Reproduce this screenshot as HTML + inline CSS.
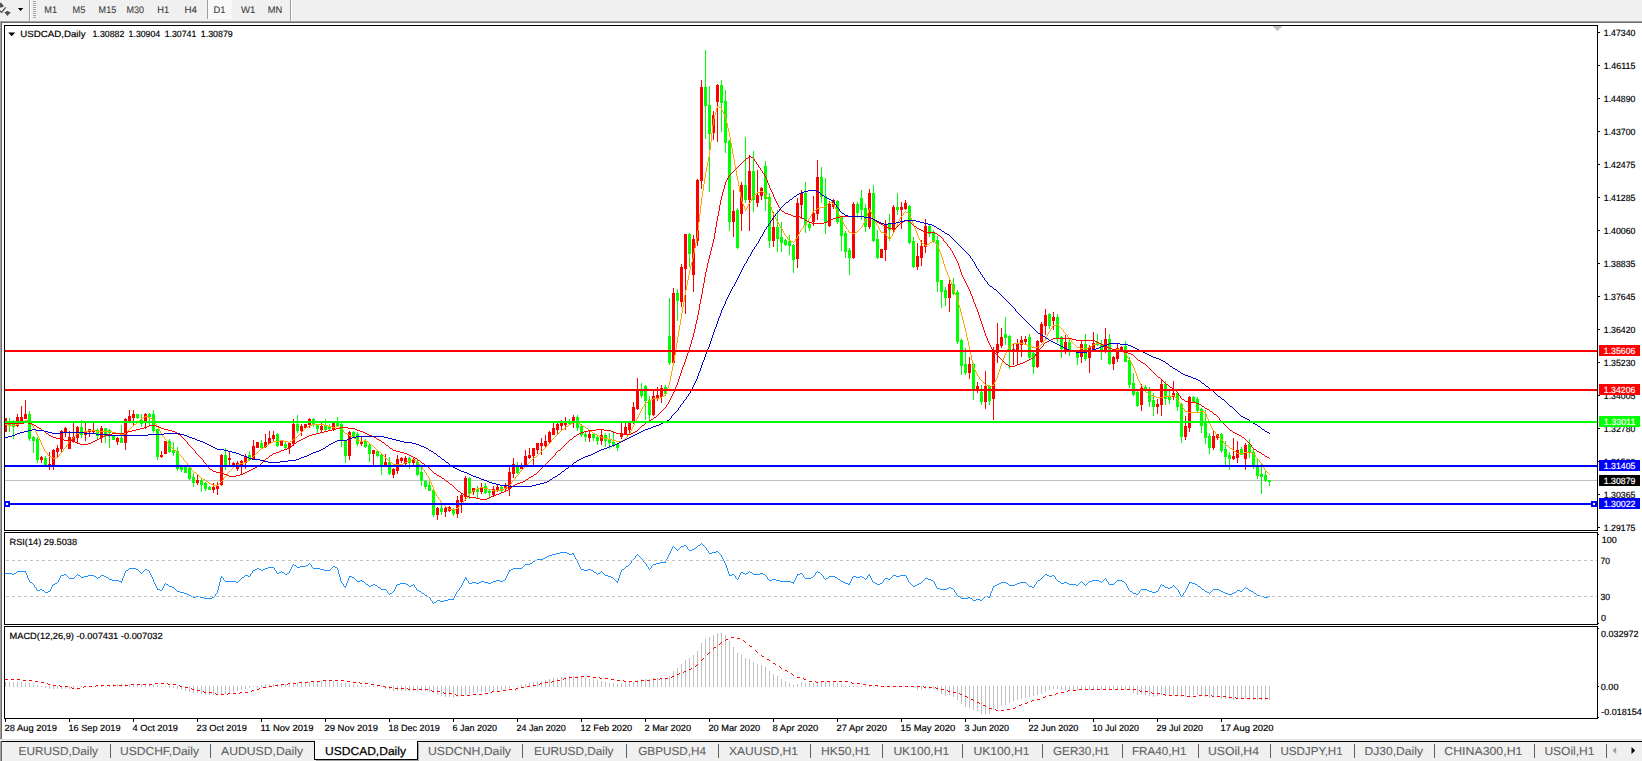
<!DOCTYPE html>
<html><head><meta charset="utf-8"><title>USDCAD,Daily</title>
<style>html,body{margin:0;padding:0;background:#fff;overflow:hidden}svg{display:block}text{font-family:"Liberation Sans",sans-serif;}</style>
</head><body>
<svg width="1642" height="761" viewBox="0 0 1642 761" shape-rendering="crispEdges" text-rendering="geometricPrecision">
<rect x="0" y="0" width="1642" height="21" fill="#f0f0f0" />
<rect x="0" y="21" width="1642" height="1" fill="#a0a0a0" />
<rect x="0" y="22" width="1642" height="1" fill="#696969" />
<rect x="0" y="22" width="1" height="719" fill="#a0a0a0" />
<rect x="1" y="23" width="1" height="718" fill="#696969" />
<rect x="29" y="0" width="1" height="21" fill="#a0a0a0" />
<rect x="30" y="0" width="1" height="21" fill="#ffffff" />
<rect x="33" y="1" width="3" height="1" fill="#a8a8a8" />
<rect x="33" y="3" width="3" height="1" fill="#a8a8a8" />
<rect x="33" y="5" width="3" height="1" fill="#a8a8a8" />
<rect x="33" y="7" width="3" height="1" fill="#a8a8a8" />
<rect x="33" y="9" width="3" height="1" fill="#a8a8a8" />
<rect x="33" y="11" width="3" height="1" fill="#a8a8a8" />
<rect x="33" y="13" width="3" height="1" fill="#a8a8a8" />
<rect x="33" y="15" width="3" height="1" fill="#a8a8a8" />
<rect x="33" y="17" width="3" height="1" fill="#a8a8a8" />
<g shape-rendering="geometricPrecision"><path d="M0 2.8 L1.2 2.8 L4 6.2 L1.5 7.6 L0 7.6 Z" fill="#505050"/><path d="M0 10.6 L1.5 12.4 L5.7 7.4" stroke="#505050" stroke-width="1.3" fill="none"/><path d="M4.2 12 L6.3 12 L6.3 11.1 L8.5 11.1 L8.5 12 L10.9 12 L7.4 15.9 Z" fill="#505050"/>
<path d="M17.9 8 L23.3 8 L20.6 11.1 Z" fill="#000"/></g>
<rect x="207" y="0" width="25" height="19" fill="#f8f8f8" />
<rect x="207" y="0" width="1" height="19" fill="#a0a0a0" />
<rect x="290" y="0" width="1" height="21" fill="#a0a0a0" />
<rect x="291" y="0" width="1" height="21" fill="#ffffff" />
<text x="44.3" y="13" font-size="9.6" fill="#3c3c3c" stroke="#3c3c3c" stroke-width="0.1" text-anchor="start" textLength="12.7" lengthAdjust="spacingAndGlyphs" >M1</text>
<text x="72.6" y="13" font-size="9.6" fill="#3c3c3c" stroke="#3c3c3c" stroke-width="0.1" text-anchor="start" textLength="12.7" lengthAdjust="spacingAndGlyphs" >M5</text>
<text x="98.6" y="13" font-size="9.6" fill="#3c3c3c" stroke="#3c3c3c" stroke-width="0.1" text-anchor="start" textLength="17.6" lengthAdjust="spacingAndGlyphs" >M15</text>
<text x="126.5" y="13" font-size="9.6" fill="#3c3c3c" stroke="#3c3c3c" stroke-width="0.1" text-anchor="start" textLength="17.5" lengthAdjust="spacingAndGlyphs" >M30</text>
<text x="157.3" y="13" font-size="9.6" fill="#3c3c3c" stroke="#3c3c3c" stroke-width="0.1" text-anchor="start" textLength="11.9" lengthAdjust="spacingAndGlyphs" >H1</text>
<text x="184.5" y="13" font-size="9.6" fill="#3c3c3c" stroke="#3c3c3c" stroke-width="0.1" text-anchor="start" textLength="12.5" lengthAdjust="spacingAndGlyphs" >H4</text>
<text x="213.6" y="13" font-size="9.6" fill="#3c3c3c" stroke="#3c3c3c" stroke-width="0.1" text-anchor="start" textLength="12.0" lengthAdjust="spacingAndGlyphs" >D1</text>
<text x="240.9" y="13" font-size="9.6" fill="#3c3c3c" stroke="#3c3c3c" stroke-width="0.1" text-anchor="start" textLength="14.4" lengthAdjust="spacingAndGlyphs" >W1</text>
<text x="267.8" y="13" font-size="9.6" fill="#3c3c3c" stroke="#3c3c3c" stroke-width="0.1" text-anchor="start" textLength="14.5" lengthAdjust="spacingAndGlyphs" >MN</text>
<rect x="4" y="25" width="1594" height="1" fill="#000" />
<rect x="4" y="530" width="1594" height="1" fill="#000" />
<rect x="4" y="25" width="1" height="506" fill="#000" />
<rect x="1597" y="25" width="1" height="506" fill="#000" />
<rect x="4" y="532" width="1594" height="1" fill="#000" />
<rect x="4" y="624" width="1594" height="1" fill="#000" />
<rect x="4" y="532" width="1" height="93" fill="#000" />
<rect x="1597" y="532" width="1" height="93" fill="#000" />
<rect x="4" y="626" width="1594" height="1" fill="#000" />
<rect x="4" y="718" width="1594" height="1" fill="#000" />
<rect x="4" y="626" width="1" height="93" fill="#000" />
<rect x="1597" y="626" width="1" height="93" fill="#000" />
<rect x="1598" y="32" width="2" height="1" fill="#000" />
<text x="1603.8" y="36" font-size="9" fill="#000" stroke="#000" stroke-width="0.18" text-anchor="start" textLength="31.6" lengthAdjust="spacingAndGlyphs" >1.47340</text>
<rect x="1598" y="65" width="2" height="1" fill="#000" />
<text x="1603.8" y="69" font-size="9" fill="#000" stroke="#000" stroke-width="0.18" text-anchor="start" textLength="31.6" lengthAdjust="spacingAndGlyphs" >1.46115</text>
<rect x="1598" y="98" width="2" height="1" fill="#000" />
<text x="1603.8" y="102" font-size="9" fill="#000" stroke="#000" stroke-width="0.18" text-anchor="start" textLength="31.6" lengthAdjust="spacingAndGlyphs" >1.44890</text>
<rect x="1598" y="131" width="2" height="1" fill="#000" />
<text x="1603.8" y="135" font-size="9" fill="#000" stroke="#000" stroke-width="0.18" text-anchor="start" textLength="31.6" lengthAdjust="spacingAndGlyphs" >1.43700</text>
<rect x="1598" y="164" width="2" height="1" fill="#000" />
<text x="1603.8" y="168" font-size="9" fill="#000" stroke="#000" stroke-width="0.18" text-anchor="start" textLength="31.6" lengthAdjust="spacingAndGlyphs" >1.42475</text>
<rect x="1598" y="197" width="2" height="1" fill="#000" />
<text x="1603.8" y="201" font-size="9" fill="#000" stroke="#000" stroke-width="0.18" text-anchor="start" textLength="31.6" lengthAdjust="spacingAndGlyphs" >1.41285</text>
<rect x="1598" y="230" width="2" height="1" fill="#000" />
<text x="1603.8" y="234" font-size="9" fill="#000" stroke="#000" stroke-width="0.18" text-anchor="start" textLength="31.6" lengthAdjust="spacingAndGlyphs" >1.40060</text>
<rect x="1598" y="263" width="2" height="1" fill="#000" />
<text x="1603.8" y="267" font-size="9" fill="#000" stroke="#000" stroke-width="0.18" text-anchor="start" textLength="31.6" lengthAdjust="spacingAndGlyphs" >1.38835</text>
<rect x="1598" y="296" width="2" height="1" fill="#000" />
<text x="1603.8" y="300" font-size="9" fill="#000" stroke="#000" stroke-width="0.18" text-anchor="start" textLength="31.6" lengthAdjust="spacingAndGlyphs" >1.37645</text>
<rect x="1598" y="329" width="2" height="1" fill="#000" />
<text x="1603.8" y="333" font-size="9" fill="#000" stroke="#000" stroke-width="0.18" text-anchor="start" textLength="31.6" lengthAdjust="spacingAndGlyphs" >1.36420</text>
<rect x="1598" y="362" width="2" height="1" fill="#000" />
<text x="1603.8" y="366" font-size="9" fill="#000" stroke="#000" stroke-width="0.18" text-anchor="start" textLength="31.6" lengthAdjust="spacingAndGlyphs" >1.35230</text>
<rect x="1598" y="395" width="2" height="1" fill="#000" />
<text x="1603.8" y="399" font-size="9" fill="#000" stroke="#000" stroke-width="0.18" text-anchor="start" textLength="31.6" lengthAdjust="spacingAndGlyphs" >1.34005</text>
<rect x="1598" y="428" width="2" height="1" fill="#000" />
<text x="1603.8" y="432" font-size="9" fill="#000" stroke="#000" stroke-width="0.18" text-anchor="start" textLength="31.6" lengthAdjust="spacingAndGlyphs" >1.32780</text>
<rect x="1598" y="461" width="2" height="1" fill="#000" />
<text x="1603.8" y="465" font-size="9" fill="#000" stroke="#000" stroke-width="0.18" text-anchor="start" textLength="31.6" lengthAdjust="spacingAndGlyphs" >1.31590</text>
<rect x="1598" y="494" width="2" height="1" fill="#000" />
<text x="1603.8" y="498" font-size="9" fill="#000" stroke="#000" stroke-width="0.18" text-anchor="start" textLength="31.6" lengthAdjust="spacingAndGlyphs" >1.30365</text>
<rect x="1598" y="527" width="2" height="1" fill="#000" />
<text x="1603.8" y="531" font-size="9" fill="#000" stroke="#000" stroke-width="0.18" text-anchor="start" textLength="31.6" lengthAdjust="spacingAndGlyphs" >1.29175</text>
<rect x="1598" y="534" width="1" height="1" fill="#000" />
<rect x="1598" y="623" width="1" height="1" fill="#000" />
<rect x="1598" y="628" width="1" height="1" fill="#000" />
<rect x="1598" y="717" width="1" height="1" fill="#000" />
<text x="1601.7" y="543" font-size="9" fill="#000" stroke="#000" stroke-width="0.18" text-anchor="start" textLength="15" lengthAdjust="spacingAndGlyphs" >100</text>
<text x="1600.5" y="564" font-size="9" fill="#000" stroke="#000" stroke-width="0.18" text-anchor="start" textLength="9.6" lengthAdjust="spacingAndGlyphs" >70</text>
<text x="1600.5" y="600" font-size="9" fill="#000" stroke="#000" stroke-width="0.18" text-anchor="start" textLength="9.6" lengthAdjust="spacingAndGlyphs" >30</text>
<text x="1601" y="621" font-size="9" fill="#000" stroke="#000" stroke-width="0.18" text-anchor="start" textLength="5" lengthAdjust="spacingAndGlyphs" >0</text>
<text x="1601" y="637" font-size="9" fill="#000" stroke="#000" stroke-width="0.18" text-anchor="start" textLength="37.5" lengthAdjust="spacingAndGlyphs" >0.032972</text>
<text x="1600.8" y="690" font-size="9" fill="#000" stroke="#000" stroke-width="0.18" text-anchor="start" textLength="17.7" lengthAdjust="spacingAndGlyphs" >0.00</text>
<text x="1601.2" y="715" font-size="9" fill="#000" stroke="#000" stroke-width="0.18" text-anchor="start" textLength="40.6" lengthAdjust="spacingAndGlyphs" >-0.018154</text>
<rect x="1598" y="686" width="1" height="1" fill="#000" />
<rect x="5" y="719" width="1" height="3" fill="#000" />
<text x="4.5" y="731" font-size="9" fill="#000" stroke="#000" stroke-width="0.18" text-anchor="start" textLength="52.5" lengthAdjust="spacingAndGlyphs" >28 Aug 2019</text>
<rect x="69" y="719" width="1" height="3" fill="#000" />
<text x="68.5" y="731" font-size="9" fill="#000" stroke="#000" stroke-width="0.18" text-anchor="start" textLength="52" lengthAdjust="spacingAndGlyphs" >16 Sep 2019</text>
<rect x="133" y="719" width="1" height="3" fill="#000" />
<text x="132.5" y="731" font-size="9" fill="#000" stroke="#000" stroke-width="0.18" text-anchor="start" textLength="45.5" lengthAdjust="spacingAndGlyphs" >4 Oct 2019</text>
<rect x="197" y="719" width="1" height="3" fill="#000" />
<text x="196.5" y="731" font-size="9" fill="#000" stroke="#000" stroke-width="0.18" text-anchor="start" textLength="50.4" lengthAdjust="spacingAndGlyphs" >23 Oct 2019</text>
<rect x="261" y="719" width="1" height="3" fill="#000" />
<text x="260.5" y="731" font-size="9" fill="#000" stroke="#000" stroke-width="0.18" text-anchor="start" textLength="53" lengthAdjust="spacingAndGlyphs" >11 Nov 2019</text>
<rect x="325" y="719" width="1" height="3" fill="#000" />
<text x="324.5" y="731" font-size="9" fill="#000" stroke="#000" stroke-width="0.18" text-anchor="start" textLength="53.5" lengthAdjust="spacingAndGlyphs" >29 Nov 2019</text>
<rect x="389" y="719" width="1" height="3" fill="#000" />
<text x="388.5" y="731" font-size="9" fill="#000" stroke="#000" stroke-width="0.18" text-anchor="start" textLength="51.2" lengthAdjust="spacingAndGlyphs" >18 Dec 2019</text>
<rect x="453" y="719" width="1" height="3" fill="#000" />
<text x="452.5" y="731" font-size="9" fill="#000" stroke="#000" stroke-width="0.18" text-anchor="start" textLength="44.5" lengthAdjust="spacingAndGlyphs" >6 Jan 2020</text>
<rect x="517" y="719" width="1" height="3" fill="#000" />
<text x="516.5" y="731" font-size="9" fill="#000" stroke="#000" stroke-width="0.18" text-anchor="start" textLength="49.1" lengthAdjust="spacingAndGlyphs" >24 Jan 2020</text>
<rect x="581" y="719" width="1" height="3" fill="#000" />
<text x="580.5" y="731" font-size="9" fill="#000" stroke="#000" stroke-width="0.18" text-anchor="start" textLength="51.7" lengthAdjust="spacingAndGlyphs" >12 Feb 2020</text>
<rect x="645" y="719" width="1" height="3" fill="#000" />
<text x="644.5" y="731" font-size="9" fill="#000" stroke="#000" stroke-width="0.18" text-anchor="start" textLength="46.5" lengthAdjust="spacingAndGlyphs" >2 Mar 2020</text>
<rect x="709" y="719" width="1" height="3" fill="#000" />
<text x="708.5" y="731" font-size="9" fill="#000" stroke="#000" stroke-width="0.18" text-anchor="start" textLength="51.7" lengthAdjust="spacingAndGlyphs" >20 Mar 2020</text>
<rect x="773" y="719" width="1" height="3" fill="#000" />
<text x="772.5" y="731" font-size="9" fill="#000" stroke="#000" stroke-width="0.18" text-anchor="start" textLength="45.8" lengthAdjust="spacingAndGlyphs" >8 Apr 2020</text>
<rect x="837" y="719" width="1" height="3" fill="#000" />
<text x="836.5" y="731" font-size="9" fill="#000" stroke="#000" stroke-width="0.18" text-anchor="start" textLength="50.4" lengthAdjust="spacingAndGlyphs" >27 Apr 2020</text>
<rect x="901" y="719" width="1" height="3" fill="#000" />
<text x="900.5" y="731" font-size="9" fill="#000" stroke="#000" stroke-width="0.18" text-anchor="start" textLength="54.7" lengthAdjust="spacingAndGlyphs" >15 May 2020</text>
<rect x="965" y="719" width="1" height="3" fill="#000" />
<text x="964.5" y="731" font-size="9" fill="#000" stroke="#000" stroke-width="0.18" text-anchor="start" textLength="44.5" lengthAdjust="spacingAndGlyphs" >3 Jun 2020</text>
<rect x="1029" y="719" width="1" height="3" fill="#000" />
<text x="1028.5" y="731" font-size="9" fill="#000" stroke="#000" stroke-width="0.18" text-anchor="start" textLength="49.9" lengthAdjust="spacingAndGlyphs" >22 Jun 2020</text>
<rect x="1093" y="719" width="1" height="3" fill="#000" />
<text x="1092.5" y="731" font-size="9" fill="#000" stroke="#000" stroke-width="0.18" text-anchor="start" textLength="46.5" lengthAdjust="spacingAndGlyphs" >10 Jul 2020</text>
<rect x="1157" y="719" width="1" height="3" fill="#000" />
<text x="1156.5" y="731" font-size="9" fill="#000" stroke="#000" stroke-width="0.18" text-anchor="start" textLength="46.5" lengthAdjust="spacingAndGlyphs" >29 Jul 2020</text>
<rect x="1221" y="719" width="1" height="3" fill="#000" />
<text x="1220.5" y="731" font-size="9" fill="#000" stroke="#000" stroke-width="0.18" text-anchor="start" textLength="53" lengthAdjust="spacingAndGlyphs" >17 Aug 2020</text>
<rect x="5" y="480" width="1592" height="1" fill="#c0c0c0" />
<path d="M9 418h1v14h-1zM8 424h3v1h-3zM13 420h1v19h-1zM12 421h3v6h-3zM29 411h1v30h-1zM28 414h3v25h-3zM33 436h1v17h-1zM32 437h3v4h-3zM37 437h1v26h-1zM36 439h3v21h-3zM45 456h1v10h-1zM44 458h3v8h-3zM81 420h1v18h-1zM80 427h3v8h-3zM97 428h1v12h-1zM96 430h3v6h-3zM105 428h1v15h-1zM104 428h3v8h-3zM109 429h1v19h-1zM108 430h3v3h-3zM113 435h1v5h-1zM112 436h3v4h-3zM121 425h1v18h-1zM120 438h3v5h-3zM137 414h1v5h-1zM136 414h3v4h-3zM141 414h1v13h-1zM140 420h3v4h-3zM149 413h1v13h-1zM148 414h3v3h-3zM153 410h1v23h-1zM152 414h3v17h-3zM157 429h1v31h-1zM156 429h3v28h-3zM169 439h1v14h-1zM168 441h3v11h-3zM173 442h1v14h-1zM172 450h3v3h-3zM177 447h1v24h-1zM176 451h3v18h-3zM181 466h1v6h-1zM180 467h3v3h-3zM185 467h1v6h-1zM184 467h3v6h-3zM189 467h1v13h-1zM188 468h3v11h-3zM193 473h1v14h-1zM192 477h3v6h-3zM201 478h1v14h-1zM200 480h3v5h-3zM205 482h1v9h-1zM204 483h3v6h-3zM209 486h1v4h-1zM208 487h3v3h-3zM225 448h1v22h-1zM224 455h3v11h-3zM249 451h1v10h-1zM248 455h3v5h-3zM261 440h1v8h-1zM260 443h3v5h-3zM277 433h1v14h-1zM276 434h3v12h-3zM285 441h1v8h-1zM284 444h3v4h-3zM297 415h1v18h-1zM296 424h3v7h-3zM313 418h1v9h-1zM312 419h3v6h-3zM317 424h1v10h-1zM316 425h3v4h-3zM325 419h1v12h-1zM324 425h3v5h-3zM329 424h1v6h-1zM328 426h3v3h-3zM337 417h1v10h-1zM336 423h3v3h-3zM341 423h1v24h-1zM340 424h3v17h-3zM345 440h1v23h-1zM344 441h3v15h-3zM353 431h1v6h-1zM352 432h3v5h-3zM357 432h1v14h-1zM356 434h3v10h-3zM365 439h1v9h-1zM364 441h3v6h-3zM369 444h1v18h-1zM368 445h3v9h-3zM377 450h1v7h-1zM376 451h3v5h-3zM381 454h1v21h-1zM380 455h3v10h-3zM389 457h1v18h-1zM388 462h3v12h-3zM409 457h1v12h-1zM408 458h3v5h-3zM417 459h1v17h-1zM416 462h3v13h-3zM421 467h1v19h-1zM420 472h3v9h-3zM425 480h1v9h-1zM424 481h3v6h-3zM429 481h1v10h-1zM428 485h3v6h-3zM433 489h1v28h-1zM432 490h3v25h-3zM441 502h1v13h-1zM440 508h3v4h-3zM453 508h1v8h-1zM452 510h3v4h-3zM469 477h1v22h-1zM468 478h3v16h-3zM477 486h1v12h-1zM476 489h3v3h-3zM485 483h1v11h-1zM484 486h3v7h-3zM489 490h1v9h-1zM488 491h3v2h-3zM501 485h1v7h-1zM500 487h3v4h-3zM517 462h1v12h-1zM516 466h3v7h-3zM569 419h1v6h-1zM568 421h3v3h-3zM577 415h1v16h-1zM576 417h3v11h-3zM581 424h1v13h-1zM580 426h3v9h-3zM585 432h1v10h-1zM584 434h3v3h-3zM593 433h1v8h-1zM592 434h3v4h-3zM597 436h1v9h-1zM596 437h3v4h-3zM605 433h1v14h-1zM604 435h3v6h-3zM609 433h1v16h-1zM608 439h3v4h-3zM613 431h1v16h-1zM612 442h3v3h-3zM617 443h1v8h-1zM616 444h3v4h-3zM641 383h1v15h-1zM640 390h3v6h-3zM645 385h1v35h-1zM644 386h3v15h-3zM649 396h1v24h-1zM648 400h3v15h-3zM665 385h1v11h-1zM664 387h3v7h-3zM669 298h1v67h-1zM668 336h3v27h-3zM677 289h1v32h-1zM676 293h3v8h-3zM689 233h1v34h-1zM688 234h3v20h-3zM705 50h1v89h-1zM704 87h3v19h-3zM709 86h1v106h-1zM708 105h3v29h-3zM721 80h1v52h-1zM720 85h3v18h-3zM725 90h1v63h-1zM724 101h3v42h-3zM729 140h1v91h-1zM728 141h3v81h-3zM737 208h1v41h-1zM736 210h3v38h-3zM745 137h1v66h-1zM744 185h3v15h-3zM753 151h1v61h-1zM752 171h3v29h-3zM765 161h1v50h-1zM764 166h3v33h-3zM769 193h1v55h-1zM768 197h3v44h-3zM777 210h1v42h-1zM776 227h3v12h-3zM781 222h1v30h-1zM780 237h3v6h-3zM785 239h1v7h-1zM784 240h3v5h-3zM789 235h1v20h-1zM788 241h3v5h-3zM793 244h1v29h-1zM792 245h3v15h-3zM805 182h1v51h-1zM804 193h3v32h-3zM809 223h1v8h-1zM808 224h3v4h-3zM821 167h1v36h-1zM820 177h3v20h-3zM825 178h1v56h-1zM824 196h3v27h-3zM837 200h1v24h-1zM836 201h3v21h-3zM841 216h1v35h-1zM840 217h3v19h-3zM845 231h1v27h-1zM844 233h3v19h-3zM849 248h1v27h-1zM848 250h3v8h-3zM857 202h1v16h-1zM856 204h3v9h-3zM861 190h1v30h-1zM860 198h3v12h-3zM865 204h1v28h-1zM864 208h3v19h-3zM873 185h1v57h-1zM872 193h3v48h-3zM877 230h1v29h-1zM876 239h3v19h-3zM889 214h1v27h-1zM888 224h3v6h-3zM897 193h1v22h-1zM896 207h3v3h-3zM909 205h1v39h-1zM908 206h3v37h-3zM913 237h1v31h-1zM912 241h3v26h-3zM929 224h1v13h-1zM928 226h3v8h-3zM933 230h1v13h-1zM932 233h3v8h-3zM937 236h1v56h-1zM936 240h3v42h-3zM941 280h1v28h-1zM940 280h3v12h-3zM945 287h1v19h-1zM944 290h3v8h-3zM953 278h1v17h-1zM952 284h3v10h-3zM957 290h1v54h-1zM956 292h3v50h-3zM961 339h1v36h-1zM960 340h3v26h-3zM965 348h1v27h-1zM964 364h3v9h-3zM973 363h1v37h-1zM972 364h3v26h-3zM981 385h1v20h-1zM980 392h3v10h-3zM989 385h1v20h-1zM988 386h3v15h-3zM1005 317h1v28h-1zM1004 334h3v4h-3zM1009 335h1v34h-1zM1008 336h3v14h-3zM1029 334h1v25h-1zM1028 337h3v21h-3zM1033 352h1v22h-1zM1032 353h3v14h-3zM1049 313h1v16h-1zM1048 314h3v12h-3zM1057 314h1v29h-1zM1056 317h3v22h-3zM1061 336h1v22h-1zM1060 337h3v12h-3zM1069 338h1v18h-1zM1068 342h3v10h-3zM1073 350h1v2h-1zM1072 350h3v2h-3zM1077 353h1v12h-1zM1076 353h3v5h-3zM1085 334h1v27h-1zM1084 344h3v15h-3zM1097 334h1v12h-1zM1096 342h3v3h-3zM1101 340h1v20h-1zM1100 345h3v6h-3zM1109 334h1v31h-1zM1108 339h3v25h-3zM1125 341h1v21h-1zM1124 346h3v16h-3zM1129 357h1v31h-1zM1128 360h3v25h-3zM1133 373h1v23h-1zM1132 383h3v12h-3zM1137 389h1v18h-1zM1136 392h3v14h-3zM1145 385h1v7h-1zM1144 387h3v3h-3zM1149 387h1v20h-1zM1148 391h3v11h-3zM1153 393h1v23h-1zM1152 400h3v7h-3zM1165 381h1v24h-1zM1164 384h3v15h-3zM1169 391h1v13h-1zM1168 397h3v3h-3zM1177 392h1v19h-1zM1176 393h3v14h-3zM1181 403h1v40h-1zM1180 404h3v33h-3zM1193 396h1v7h-1zM1192 397h3v5h-3zM1197 397h1v16h-1zM1196 399h3v12h-3zM1201 408h1v25h-1zM1200 409h3v17h-3zM1205 410h1v34h-1zM1204 421h3v17h-3zM1209 433h1v21h-1zM1208 436h3v12h-3zM1221 433h1v20h-1zM1220 434h3v17h-3zM1225 441h1v24h-1zM1224 449h3v8h-3zM1229 452h1v18h-1zM1228 455h3v4h-3zM1241 447h1v8h-1zM1240 449h3v6h-3zM1249 439h1v19h-1zM1248 444h3v8h-3zM1253 448h1v21h-1zM1252 452h3v14h-3zM1257 459h1v20h-1zM1256 467h3v9h-3zM1261 464h1v30h-1zM1260 474h3v3h-3zM1265 470h1v12h-1zM1264 475h3v6h-3zM1269 480h1v6h-1zM1268 480h3v2h-3z" fill="#00ff00"/>
<path d="M5 418h1v14h-1zM5 418h2v14h-2zM17 414h1v13h-1zM16 417h3v9h-3zM21 406h1v15h-1zM20 417h3v4h-3zM25 400h1v19h-1zM24 414h3v5h-3zM41 456h1v7h-1zM40 457h3v3h-3zM49 452h1v18h-1zM48 464h3v2h-3zM53 449h1v21h-1zM52 450h3v16h-3zM57 445h1v12h-1zM56 448h3v4h-3zM61 430h1v22h-1zM60 431h3v18h-3zM65 427h1v10h-1zM64 428h3v5h-3zM69 431h1v18h-1zM68 437h3v12h-3zM73 423h1v20h-1zM72 437h3v4h-3zM77 426h1v17h-1zM76 427h3v11h-3zM85 423h1v18h-1zM84 431h3v4h-3zM89 429h1v8h-1zM88 429h3v3h-3zM93 423h1v10h-1zM92 430h3v2h-3zM101 426h1v17h-1zM100 428h3v10h-3zM117 437h1v8h-1zM116 438h3v4h-3zM125 418h1v32h-1zM124 419h3v24h-3zM129 410h1v12h-1zM128 416h3v5h-3zM133 410h1v15h-1zM132 414h3v4h-3zM145 413h1v16h-1zM144 414h3v8h-3zM161 451h1v7h-1zM160 455h3v2h-3zM165 441h1v13h-1zM164 441h3v13h-3zM197 475h1v10h-1zM196 480h3v3h-3zM213 483h1v10h-1zM212 487h3v3h-3zM217 482h1v13h-1zM216 486h3v3h-3zM221 454h1v32h-1zM220 455h3v30h-3zM229 451h1v16h-1zM228 458h3v2h-3zM233 462h1v5h-1zM232 463h3v3h-3zM237 461h1v10h-1zM236 463h3v6h-3zM241 460h1v15h-1zM240 461h3v4h-3zM245 454h1v15h-1zM244 457h3v6h-3zM253 440h1v20h-1zM252 446h3v13h-3zM257 442h1v6h-1zM256 442h3v6h-3zM265 434h1v14h-1zM264 442h3v5h-3zM269 431h1v13h-1zM268 438h3v6h-3zM273 431h1v10h-1zM272 435h3v4h-3zM281 441h1v5h-1zM280 441h3v5h-3zM289 442h1v12h-1zM288 443h3v5h-3zM293 419h1v27h-1zM292 424h3v20h-3zM301 424h1v12h-1zM300 426h3v5h-3zM305 424h1v4h-1zM304 424h3v4h-3zM309 418h1v10h-1zM308 419h3v6h-3zM321 423h1v9h-1zM320 426h3v4h-3zM333 423h1v8h-1zM332 423h3v7h-3zM349 431h1v29h-1zM348 432h3v24h-3zM361 437h1v9h-1zM360 441h3v3h-3zM373 450h1v15h-1zM372 450h3v4h-3zM385 454h1v12h-1zM384 462h3v3h-3zM393 468h1v10h-1zM392 469h3v6h-3zM397 455h1v19h-1zM396 459h3v12h-3zM401 457h1v6h-1zM400 458h3v3h-3zM405 456h1v9h-1zM404 458h3v6h-3zM413 458h1v7h-1zM412 459h3v4h-3zM437 507h1v13h-1zM436 508h3v7h-3zM445 506h1v11h-1zM444 508h3v4h-3zM449 506h1v6h-1zM448 507h3v4h-3zM457 496h1v22h-1zM456 500h3v14h-3zM461 493h1v20h-1zM460 495h3v7h-3zM465 476h1v25h-1zM464 478h3v19h-3zM473 488h1v7h-1zM472 488h3v4h-3zM481 483h1v11h-1zM480 487h3v5h-3zM493 486h1v11h-1zM492 489h3v6h-3zM497 485h1v7h-1zM496 487h3v3h-3zM505 483h1v8h-1zM504 486h3v3h-3zM509 467h1v29h-1zM508 472h3v17h-3zM513 458h1v20h-1zM512 464h3v10h-3zM521 463h1v6h-1zM520 466h3v3h-3zM525 450h1v17h-1zM524 456h3v10h-3zM529 448h1v11h-1zM528 455h3v3h-3zM533 448h1v17h-1zM532 448h3v8h-3zM537 443h1v11h-1zM536 443h3v7h-3zM541 438h1v17h-1zM540 443h3v3h-3zM545 435h1v12h-1zM544 441h3v5h-3zM549 431h1v12h-1zM548 432h3v10h-3zM553 423h1v12h-1zM552 428h3v7h-3zM557 423h1v12h-1zM556 424h3v6h-3zM561 420h1v11h-1zM560 423h3v3h-3zM565 417h1v13h-1zM564 421h3v4h-3zM573 415h1v13h-1zM572 417h3v5h-3zM589 430h1v12h-1zM588 434h3v4h-3zM601 429h1v16h-1zM600 435h3v6h-3zM621 423h1v16h-1zM620 433h3v4h-3zM625 423h1v12h-1zM624 427h3v7h-3zM629 421h1v13h-1zM628 423h3v7h-3zM633 402h1v22h-1zM632 407h3v15h-3zM637 378h1v32h-1zM636 389h3v20h-3zM653 391h1v25h-1zM652 396h3v19h-3zM657 387h1v14h-1zM656 395h3v3h-3zM661 385h1v18h-1zM660 388h3v9h-3zM673 288h1v75h-1zM672 293h3v70h-3zM681 264h1v43h-1zM680 267h3v35h-3zM685 234h1v80h-1zM684 234h3v35h-3zM693 235h1v57h-1zM692 239h3v36h-3zM697 179h1v67h-1zM696 180h3v61h-3zM701 80h1v109h-1zM700 87h3v94h-3zM713 111h1v29h-1zM712 115h3v18h-3zM717 84h1v58h-1zM716 85h3v17h-3zM733 190h1v47h-1zM732 211h3v11h-3zM741 182h1v49h-1zM740 185h3v29h-3zM749 155h1v76h-1zM748 171h3v29h-3zM757 170h1v37h-1zM756 195h3v8h-3zM761 187h1v13h-1zM760 188h3v8h-3zM773 212h1v35h-1zM772 227h3v14h-3zM797 198h1v70h-1zM796 203h3v56h-3zM801 190h1v29h-1zM800 193h3v12h-3zM813 196h1v30h-1zM812 213h3v9h-3zM817 160h1v60h-1zM816 177h3v37h-3zM829 201h1v26h-1zM828 204h3v22h-3zM833 199h1v10h-1zM832 200h3v7h-3zM853 202h1v57h-1zM852 204h3v54h-3zM869 189h1v40h-1zM868 193h3v34h-3zM881 249h1v9h-1zM880 249h3v9h-3zM885 220h1v41h-1zM884 225h3v25h-3zM893 205h1v27h-1zM892 207h3v23h-3zM901 202h1v27h-1zM900 207h3v3h-3zM905 200h1v10h-1zM904 203h3v6h-3zM917 243h1v27h-1zM916 256h3v11h-3zM921 240h1v26h-1zM920 246h3v12h-3zM925 219h1v34h-1zM924 226h3v21h-3zM949 280h1v32h-1zM948 284h3v14h-3zM969 357h1v22h-1zM968 364h3v9h-3zM977 382h1v11h-1zM976 386h3v5h-3zM985 371h1v38h-1zM984 386h3v16h-3zM993 347h1v73h-1zM992 351h3v48h-3zM997 323h1v40h-1zM996 344h3v9h-3zM1001 328h1v20h-1zM1000 337h3v9h-3zM1013 344h1v21h-1zM1012 349h3v3h-3zM1017 339h1v25h-1zM1016 344h3v8h-3zM1021 336h1v21h-1zM1020 340h3v5h-3zM1025 336h1v9h-1zM1024 339h3v3h-3zM1037 340h1v28h-1zM1036 341h3v26h-3zM1041 322h1v21h-1zM1040 324h3v18h-3zM1045 309h1v26h-1zM1044 315h3v11h-3zM1053 312h1v18h-1zM1052 317h3v4h-3zM1065 335h1v19h-1zM1064 342h3v10h-3zM1081 340h1v23h-1zM1080 344h3v13h-3zM1089 345h1v28h-1zM1088 347h3v11h-3zM1093 332h1v19h-1zM1092 343h3v6h-3zM1105 328h1v25h-1zM1104 339h3v13h-3zM1113 356h1v14h-1zM1112 357h3v7h-3zM1117 344h1v18h-1zM1116 348h3v11h-3zM1121 346h1v5h-1zM1120 347h3v3h-3zM1141 384h1v27h-1zM1140 388h3v17h-3zM1157 399h1v15h-1zM1156 404h3v3h-3zM1161 379h1v37h-1zM1160 384h3v21h-3zM1173 381h1v19h-1zM1172 393h3v4h-3zM1185 416h1v24h-1zM1184 426h3v11h-3zM1189 396h1v36h-1zM1188 397h3v31h-3zM1213 431h1v19h-1zM1212 436h3v12h-3zM1217 434h1v6h-1zM1216 434h3v4h-3zM1233 438h1v22h-1zM1232 456h3v3h-3zM1237 441h1v22h-1zM1236 450h3v8h-3zM1245 443h1v27h-1zM1244 445h3v14h-3z" fill="#ff0000"/>
<path d="M717 106h2v1h-2zM717 107h1v1h-1zM719 107h2v1h-2zM716 108h1v1h-1zM721 108h1v1h-1zM716 109h1v1h-1zM721 109h1v1h-1zM716 110h1v1h-1zM722 110h1v1h-1zM716 111h1v1h-1zM722 111h1v1h-1zM715 112h1v1h-1zM723 112h1v1h-1zM715 113h1v1h-1zM723 113h1v1h-1zM715 114h1v1h-1zM724 114h1v1h-1zM714 115h1v1h-1zM724 115h1v1h-1zM714 116h1v1h-1zM725 116h1v1h-1zM714 117h1v1h-1zM725 117h1v1h-1zM714 118h1v1h-1zM725 118h1v1h-1zM713 119h1v1h-1zM726 119h1v1h-1zM713 120h1v1h-1zM726 120h1v1h-1zM713 121h1v1h-1zM726 121h1v1h-1zM713 122h1v1h-1zM726 122h1v1h-1zM713 123h1v1h-1zM727 123h1v1h-1zM713 124h1v1h-1zM727 124h1v1h-1zM712 125h1v1h-1zM727 125h1v1h-1zM712 126h1v1h-1zM727 126h1v1h-1zM712 127h1v1h-1zM727 127h1v1h-1zM712 128h1v1h-1zM728 128h1v1h-1zM712 129h1v1h-1zM728 129h1v1h-1zM712 130h1v1h-1zM728 130h1v1h-1zM712 131h1v1h-1zM728 131h1v1h-1zM712 132h1v1h-1zM729 132h1v1h-1zM711 133h1v1h-1zM729 133h1v1h-1zM711 134h1v1h-1zM729 134h1v1h-1zM711 135h1v1h-1zM729 135h1v1h-1zM711 136h1v1h-1zM729 136h1v1h-1zM711 137h1v1h-1zM730 137h1v1h-1zM711 138h1v1h-1zM730 138h1v1h-1zM711 139h1v1h-1zM730 139h1v1h-1zM711 140h1v1h-1zM730 140h1v1h-1zM711 141h1v1h-1zM730 141h1v1h-1zM710 142h1v1h-1zM730 142h1v1h-1zM710 143h1v1h-1zM731 143h1v1h-1zM710 144h1v1h-1zM731 144h1v1h-1zM710 145h1v1h-1zM731 145h1v1h-1zM710 146h1v1h-1zM731 146h1v1h-1zM710 147h1v1h-1zM731 147h1v1h-1zM710 148h1v1h-1zM732 148h1v1h-1zM710 149h1v1h-1zM732 149h1v1h-1zM709 150h1v1h-1zM732 150h1v1h-1zM709 151h1v1h-1zM732 151h1v1h-1zM709 152h1v1h-1zM732 152h1v1h-1zM709 153h1v1h-1zM732 153h1v1h-1zM709 154h1v1h-1zM733 154h1v1h-1zM709 155h1v1h-1zM733 155h1v1h-1zM709 156h1v1h-1zM733 156h1v1h-1zM708 157h1v1h-1zM733 157h1v1h-1zM708 158h1v1h-1zM733 158h1v1h-1zM708 159h1v1h-1zM734 159h1v1h-1zM708 160h1v1h-1zM734 160h1v1h-1zM708 161h1v1h-1zM734 161h1v1h-1zM707 162h1v1h-1zM734 162h1v1h-1zM707 163h1v1h-1zM734 163h1v1h-1zM707 164h1v1h-1zM734 164h1v1h-1zM707 165h1v1h-1zM735 165h1v1h-1zM707 166h1v1h-1zM735 166h1v1h-1zM706 167h1v1h-1zM735 167h1v1h-1zM706 168h1v1h-1zM735 168h1v1h-1zM706 169h1v1h-1zM735 169h1v1h-1zM706 170h1v1h-1zM736 170h1v1h-1zM706 171h1v1h-1zM736 171h1v1h-1zM705 172h1v1h-1zM736 172h1v1h-1zM705 173h1v1h-1zM736 173h1v1h-1zM705 174h1v1h-1zM736 174h1v1h-1zM705 175h1v1h-1zM736 175h1v1h-1zM705 176h1v1h-1zM737 176h1v1h-1zM705 177h1v1h-1zM737 177h1v1h-1zM704 178h1v1h-1zM737 178h1v1h-1zM704 179h1v1h-1zM737 179h1v1h-1zM704 180h1v1h-1zM737 180h1v1h-1zM704 181h1v1h-1zM738 181h1v1h-1zM704 182h1v1h-1zM738 182h1v1h-1zM704 183h1v1h-1zM738 183h1v1h-1zM703 184h1v1h-1zM738 184h1v1h-1zM703 185h1v1h-1zM738 185h1v1h-1zM703 186h1v1h-1zM739 186h1v1h-1zM703 187h1v1h-1zM739 187h1v1h-1zM703 188h1v1h-1zM739 188h1v1h-1zM703 189h1v1h-1zM739 189h1v1h-1zM703 190h1v1h-1zM739 190h1v1h-1zM702 191h1v1h-1zM739 191h1v1h-1zM760 191h3v1h-3zM702 192h1v1h-1zM740 192h1v1h-1zM757 192h3v1h-3zM763 192h2v1h-2zM702 193h1v1h-1zM740 193h1v1h-1zM756 193h1v1h-1zM765 193h1v1h-1zM702 194h1v1h-1zM740 194h1v1h-1zM755 194h1v1h-1zM765 194h1v1h-1zM702 195h1v1h-1zM740 195h1v1h-1zM754 195h1v1h-1zM766 195h1v1h-1zM702 196h1v1h-1zM740 196h1v1h-1zM753 196h1v1h-1zM766 196h1v1h-1zM701 197h1v1h-1zM741 197h1v1h-1zM752 197h1v1h-1zM767 197h1v1h-1zM701 198h1v1h-1zM741 198h1v1h-1zM752 198h1v1h-1zM767 198h1v1h-1zM701 199h1v1h-1zM741 199h1v1h-1zM751 199h1v1h-1zM768 199h1v1h-1zM701 200h1v1h-1zM741 200h1v1h-1zM751 200h1v1h-1zM768 200h1v1h-1zM701 201h1v1h-1zM742 201h1v1h-1zM750 201h1v1h-1zM769 201h1v1h-1zM701 202h1v1h-1zM742 202h1v1h-1zM750 202h1v1h-1zM769 202h1v1h-1zM829 202h3v1h-3zM701 203h1v1h-1zM742 203h1v1h-1zM749 203h1v1h-1zM769 203h1v1h-1zM828 203h1v1h-1zM832 203h2v1h-2zM701 204h1v1h-1zM743 204h1v1h-1zM748 204h1v1h-1zM770 204h1v1h-1zM827 204h1v1h-1zM833 204h1v1h-1zM700 205h1v1h-1zM743 205h1v1h-1zM748 205h1v1h-1zM770 205h1v1h-1zM826 205h1v1h-1zM834 205h1v1h-1zM700 206h1v1h-1zM744 206h1v1h-1zM747 206h1v1h-1zM770 206h1v1h-1zM824 206h2v1h-2zM834 206h1v1h-1zM700 207h1v1h-1zM744 207h1v1h-1zM747 207h1v1h-1zM771 207h1v1h-1zM820 207h4v1h-4zM835 207h1v1h-1zM700 208h1v1h-1zM744 208h1v1h-1zM746 208h1v1h-1zM771 208h1v1h-1zM817 208h3v1h-3zM835 208h1v1h-1zM869 208h1v1h-1zM700 209h1v1h-1zM745 209h2v1h-2zM771 209h1v1h-1zM816 209h1v1h-1zM836 209h1v1h-1zM869 209h1v1h-1zM700 210h1v1h-1zM745 210h1v1h-1zM772 210h1v1h-1zM814 210h2v1h-2zM836 210h1v1h-1zM868 210h1v1h-1zM870 210h1v1h-1zM700 211h1v1h-1zM772 211h1v1h-1zM813 211h1v1h-1zM837 211h1v1h-1zM868 211h1v1h-1zM870 211h1v1h-1zM905 211h1v1h-1zM700 212h1v1h-1zM772 212h1v1h-1zM812 212h1v1h-1zM837 212h1v1h-1zM868 212h1v1h-1zM871 212h1v1h-1zM904 212h1v1h-1zM906 212h2v1h-2zM700 213h1v1h-1zM773 213h1v1h-1zM812 213h1v1h-1zM838 213h1v1h-1zM867 213h1v1h-1zM871 213h1v1h-1zM903 213h1v1h-1zM908 213h1v1h-1zM699 214h1v1h-1zM773 214h1v1h-1zM811 214h1v1h-1zM838 214h1v1h-1zM867 214h1v1h-1zM872 214h1v1h-1zM903 214h1v1h-1zM909 214h1v1h-1zM699 215h1v1h-1zM774 215h1v1h-1zM811 215h1v1h-1zM839 215h1v1h-1zM867 215h1v1h-1zM872 215h1v1h-1zM902 215h1v1h-1zM909 215h1v1h-1zM699 216h1v1h-1zM774 216h1v1h-1zM810 216h1v1h-1zM839 216h1v1h-1zM866 216h1v1h-1zM873 216h1v1h-1zM901 216h1v1h-1zM910 216h1v1h-1zM699 217h1v1h-1zM775 217h1v1h-1zM810 217h1v1h-1zM840 217h1v1h-1zM866 217h1v1h-1zM873 217h1v1h-1zM900 217h1v1h-1zM910 217h1v1h-1zM699 218h1v1h-1zM775 218h1v1h-1zM809 218h1v1h-1zM840 218h1v1h-1zM866 218h1v1h-1zM873 218h1v1h-1zM900 218h1v1h-1zM911 218h1v1h-1zM699 219h1v1h-1zM776 219h1v1h-1zM808 219h1v1h-1zM841 219h1v1h-1zM865 219h1v1h-1zM874 219h1v1h-1zM899 219h1v1h-1zM911 219h1v1h-1zM699 220h1v1h-1zM776 220h1v1h-1zM808 220h1v1h-1zM842 220h1v1h-1zM865 220h1v1h-1zM874 220h1v1h-1zM899 220h1v1h-1zM911 220h1v1h-1zM699 221h1v1h-1zM777 221h1v1h-1zM807 221h1v1h-1zM842 221h1v1h-1zM864 221h1v1h-1zM875 221h1v1h-1zM898 221h1v1h-1zM912 221h1v1h-1zM698 222h1v1h-1zM778 222h1v1h-1zM806 222h1v1h-1zM843 222h1v1h-1zM864 222h1v1h-1zM875 222h1v1h-1zM898 222h1v1h-1zM912 222h1v1h-1zM698 223h1v1h-1zM778 223h1v1h-1zM806 223h1v1h-1zM843 223h1v1h-1zM863 223h1v1h-1zM876 223h1v1h-1zM897 223h1v1h-1zM913 223h1v1h-1zM698 224h1v1h-1zM779 224h1v1h-1zM805 224h1v1h-1zM844 224h1v1h-1zM863 224h1v1h-1zM876 224h1v1h-1zM897 224h1v1h-1zM913 224h1v1h-1zM698 225h1v1h-1zM779 225h1v1h-1zM804 225h1v1h-1zM844 225h1v1h-1zM862 225h1v1h-1zM877 225h1v1h-1zM897 225h1v1h-1zM913 225h1v1h-1zM698 226h1v1h-1zM780 226h1v1h-1zM803 226h1v1h-1zM845 226h1v1h-1zM862 226h1v1h-1zM878 226h1v1h-1zM896 226h1v1h-1zM914 226h1v1h-1zM698 227h1v1h-1zM780 227h1v1h-1zM803 227h1v1h-1zM846 227h1v1h-1zM861 227h1v1h-1zM878 227h1v1h-1zM896 227h1v1h-1zM914 227h1v1h-1zM698 228h1v1h-1zM781 228h1v1h-1zM802 228h1v1h-1zM846 228h1v1h-1zM860 228h1v1h-1zM879 228h1v1h-1zM895 228h1v1h-1zM915 228h1v1h-1zM698 229h1v1h-1zM782 229h1v1h-1zM801 229h1v1h-1zM847 229h1v1h-1zM859 229h1v1h-1zM879 229h1v1h-1zM895 229h1v1h-1zM915 229h1v1h-1zM698 230h1v1h-1zM782 230h1v1h-1zM800 230h1v1h-1zM848 230h1v1h-1zM858 230h1v1h-1zM880 230h1v1h-1zM894 230h1v1h-1zM915 230h1v1h-1zM697 231h1v1h-1zM783 231h1v1h-1zM800 231h1v1h-1zM848 231h1v1h-1zM857 231h1v1h-1zM880 231h1v1h-1zM894 231h1v1h-1zM916 231h1v1h-1zM697 232h1v1h-1zM783 232h1v1h-1zM799 232h1v1h-1zM849 232h3v1h-3zM855 232h2v1h-2zM881 232h3v1h-3zM893 232h1v1h-1zM916 232h1v1h-1zM697 233h1v1h-1zM784 233h1v1h-1zM799 233h1v1h-1zM852 233h3v1h-3zM884 233h2v1h-2zM893 233h1v1h-1zM917 233h1v1h-1zM697 234h1v1h-1zM784 234h1v1h-1zM798 234h1v1h-1zM886 234h1v1h-1zM892 234h1v1h-1zM917 234h1v1h-1zM697 235h1v1h-1zM785 235h1v1h-1zM798 235h1v1h-1zM886 235h1v1h-1zM892 235h1v1h-1zM917 235h1v1h-1zM697 236h1v1h-1zM786 236h1v1h-1zM797 236h1v1h-1zM887 236h1v1h-1zM891 236h1v1h-1zM918 236h1v1h-1zM697 237h1v1h-1zM787 237h1v1h-1zM797 237h1v1h-1zM888 237h1v1h-1zM890 237h1v1h-1zM918 237h1v1h-1zM696 238h1v1h-1zM787 238h1v1h-1zM796 238h1v1h-1zM888 238h1v1h-1zM890 238h1v1h-1zM919 238h1v1h-1zM696 239h1v1h-1zM788 239h1v1h-1zM795 239h1v1h-1zM889 239h1v1h-1zM919 239h1v1h-1zM696 240h1v1h-1zM789 240h2v1h-2zM795 240h1v1h-1zM920 240h1v1h-1zM933 240h1v1h-1zM696 241h1v1h-1zM791 241h2v1h-2zM794 241h1v1h-1zM920 241h1v1h-1zM932 241h1v1h-1zM934 241h1v1h-1zM696 242h1v1h-1zM793 242h1v1h-1zM921 242h1v1h-1zM930 242h2v1h-2zM935 242h1v1h-1zM695 243h1v1h-1zM922 243h2v1h-2zM929 243h1v1h-1zM935 243h1v1h-1zM695 244h1v1h-1zM924 244h1v1h-1zM927 244h2v1h-2zM936 244h1v1h-1zM695 245h1v1h-1zM925 245h2v1h-2zM937 245h1v1h-1zM695 246h1v1h-1zM937 246h1v1h-1zM695 247h1v1h-1zM938 247h1v1h-1zM694 248h1v1h-1zM938 248h1v1h-1zM694 249h1v1h-1zM939 249h1v1h-1zM694 250h1v1h-1zM939 250h1v1h-1zM694 251h1v1h-1zM939 251h1v1h-1zM694 252h1v1h-1zM940 252h1v1h-1zM693 253h1v1h-1zM940 253h1v1h-1zM693 254h1v1h-1zM941 254h1v1h-1zM693 255h1v1h-1zM941 255h1v1h-1zM693 256h1v1h-1zM941 256h1v1h-1zM693 257h1v1h-1zM942 257h1v1h-1zM692 258h1v1h-1zM942 258h1v1h-1zM692 259h1v1h-1zM942 259h1v1h-1zM692 260h1v1h-1zM943 260h1v1h-1zM692 261h1v1h-1zM943 261h1v1h-1zM691 262h1v1h-1zM943 262h1v1h-1zM691 263h1v1h-1zM943 263h1v1h-1zM691 264h1v1h-1zM944 264h1v1h-1zM691 265h1v1h-1zM944 265h1v1h-1zM690 266h1v1h-1zM944 266h1v1h-1zM690 267h1v1h-1zM945 267h1v1h-1zM690 268h1v1h-1zM945 268h1v1h-1zM690 269h1v1h-1zM945 269h1v1h-1zM689 270h1v1h-1zM946 270h1v1h-1zM689 271h1v1h-1zM946 271h1v1h-1zM689 272h1v1h-1zM947 272h1v1h-1zM689 273h1v1h-1zM947 273h1v1h-1zM689 274h1v1h-1zM947 274h1v1h-1zM688 275h1v1h-1zM948 275h1v1h-1zM688 276h1v1h-1zM948 276h1v1h-1zM688 277h1v1h-1zM949 277h1v1h-1zM688 278h1v1h-1zM949 278h1v1h-1zM688 279h1v1h-1zM949 279h1v1h-1zM687 280h1v1h-1zM950 280h1v1h-1zM687 281h1v1h-1zM950 281h1v1h-1zM687 282h1v1h-1zM951 282h1v1h-1zM687 283h1v1h-1zM951 283h1v1h-1zM687 284h1v1h-1zM951 284h1v1h-1zM686 285h1v1h-1zM952 285h1v1h-1zM686 286h1v1h-1zM952 286h1v1h-1zM686 287h1v1h-1zM953 287h1v1h-1zM686 288h1v1h-1zM953 288h1v1h-1zM686 289h1v1h-1zM953 289h1v1h-1zM685 290h1v1h-1zM954 290h1v1h-1zM685 291h1v1h-1zM954 291h1v1h-1zM685 292h1v1h-1zM954 292h1v1h-1zM685 293h1v1h-1zM955 293h1v1h-1zM685 294h1v1h-1zM955 294h1v1h-1zM684 295h1v1h-1zM956 295h1v1h-1zM684 296h1v1h-1zM956 296h1v1h-1zM684 297h1v1h-1zM956 297h1v1h-1zM684 298h1v1h-1zM957 298h1v1h-1zM684 299h1v1h-1zM957 299h1v1h-1zM684 300h1v1h-1zM957 300h1v1h-1zM683 301h1v1h-1zM958 301h1v1h-1zM683 302h1v1h-1zM958 302h1v1h-1zM683 303h1v1h-1zM958 303h1v1h-1zM683 304h1v1h-1zM958 304h1v1h-1zM683 305h1v1h-1zM959 305h1v1h-1zM683 306h1v1h-1zM959 306h1v1h-1zM682 307h1v1h-1zM959 307h1v1h-1zM682 308h1v1h-1zM960 308h1v1h-1zM682 309h1v1h-1zM960 309h1v1h-1zM682 310h1v1h-1zM960 310h1v1h-1zM682 311h1v1h-1zM960 311h1v1h-1zM682 312h1v1h-1zM961 312h1v1h-1zM681 313h1v1h-1zM961 313h1v1h-1zM681 314h1v1h-1zM961 314h1v1h-1zM681 315h1v1h-1zM961 315h1v1h-1zM681 316h1v1h-1zM962 316h1v1h-1zM681 317h1v1h-1zM962 317h1v1h-1zM681 318h1v1h-1zM962 318h1v1h-1zM680 319h1v1h-1zM962 319h1v1h-1zM680 320h1v1h-1zM963 320h1v1h-1zM680 321h1v1h-1zM963 321h1v1h-1zM680 322h1v1h-1zM963 322h1v1h-1zM680 323h1v1h-1zM963 323h1v1h-1zM680 324h1v1h-1zM964 324h1v1h-1zM1056 324h2v1h-2zM679 325h1v1h-1zM964 325h1v1h-1zM1053 325h3v1h-3zM1058 325h1v1h-1zM679 326h1v1h-1zM964 326h1v1h-1zM1052 326h1v1h-1zM1059 326h1v1h-1zM679 327h1v1h-1zM964 327h1v1h-1zM1052 327h1v1h-1zM1060 327h1v1h-1zM679 328h1v1h-1zM965 328h1v1h-1zM1051 328h1v1h-1zM1061 328h1v1h-1zM679 329h1v1h-1zM965 329h1v1h-1zM1050 329h1v1h-1zM1062 329h1v1h-1zM679 330h1v1h-1zM965 330h1v1h-1zM1050 330h1v1h-1zM1063 330h1v1h-1zM678 331h1v1h-1zM965 331h1v1h-1zM1049 331h1v1h-1zM1063 331h1v1h-1zM678 332h1v1h-1zM966 332h1v1h-1zM1048 332h1v1h-1zM1064 332h1v1h-1zM678 333h1v1h-1zM966 333h1v1h-1zM1048 333h1v1h-1zM1065 333h1v1h-1zM678 334h1v1h-1zM966 334h1v1h-1zM1047 334h1v1h-1zM1066 334h1v1h-1zM678 335h1v1h-1zM966 335h1v1h-1zM1047 335h1v1h-1zM1067 335h1v1h-1zM678 336h1v1h-1zM966 336h1v1h-1zM1046 336h1v1h-1zM1067 336h1v1h-1zM677 337h1v1h-1zM967 337h1v1h-1zM1046 337h1v1h-1zM1068 337h1v1h-1zM677 338h1v1h-1zM967 338h1v1h-1zM1045 338h1v1h-1zM1069 338h1v1h-1zM677 339h1v1h-1zM967 339h1v1h-1zM1045 339h1v1h-1zM1070 339h1v1h-1zM677 340h1v1h-1zM967 340h1v1h-1zM1044 340h1v1h-1zM1071 340h1v1h-1zM677 341h1v1h-1zM968 341h1v1h-1zM1043 341h1v1h-1zM1071 341h1v1h-1zM677 342h1v1h-1zM968 342h1v1h-1zM1043 342h1v1h-1zM1072 342h1v1h-1zM676 343h1v1h-1zM968 343h1v1h-1zM1013 343h11v1h-11zM1042 343h1v1h-1zM1073 343h1v1h-1zM1096 343h4v1h-4zM676 344h1v1h-1zM968 344h1v1h-1zM1012 344h1v1h-1zM1024 344h3v1h-3zM1041 344h1v1h-1zM1074 344h1v1h-1zM1093 344h3v1h-3zM1100 344h4v1h-4zM676 345h1v1h-1zM968 345h1v1h-1zM1010 345h2v1h-2zM1027 345h2v1h-2zM1040 345h1v1h-1zM1075 345h1v1h-1zM1092 345h1v1h-1zM1104 345h2v1h-2zM676 346h1v1h-1zM969 346h1v1h-1zM1009 346h1v1h-1zM1029 346h3v1h-3zM1038 346h2v1h-2zM1076 346h1v1h-1zM1090 346h2v1h-2zM1106 346h2v1h-2zM676 347h1v1h-1zM969 347h1v1h-1zM1008 347h1v1h-1zM1032 347h6v1h-6zM1077 347h3v1h-3zM1088 347h2v1h-2zM1108 347h1v1h-1zM676 348h1v1h-1zM969 348h1v1h-1zM1008 348h1v1h-1zM1080 348h8v1h-8zM1109 348h3v1h-3zM675 349h1v1h-1zM969 349h1v1h-1zM1007 349h1v1h-1zM1112 349h8v1h-8zM675 350h1v1h-1zM969 350h1v1h-1zM1007 350h1v1h-1zM1120 350h2v1h-2zM675 351h1v1h-1zM970 351h1v1h-1zM1006 351h1v1h-1zM1122 351h1v1h-1zM675 352h1v1h-1zM970 352h1v1h-1zM1006 352h1v1h-1zM1123 352h1v1h-1zM675 353h1v1h-1zM970 353h1v1h-1zM1005 353h1v1h-1zM1124 353h1v1h-1zM675 354h1v1h-1zM970 354h1v1h-1zM1005 354h1v1h-1zM1125 354h1v1h-1zM674 355h1v1h-1zM971 355h1v1h-1zM1004 355h1v1h-1zM1126 355h1v1h-1zM674 356h1v1h-1zM971 356h1v1h-1zM1004 356h1v1h-1zM1127 356h1v1h-1zM674 357h1v1h-1zM971 357h1v1h-1zM1004 357h1v1h-1zM1127 357h1v1h-1zM674 358h1v1h-1zM971 358h1v1h-1zM1003 358h1v1h-1zM1128 358h1v1h-1zM674 359h1v1h-1zM971 359h1v1h-1zM1003 359h1v1h-1zM1129 359h1v1h-1zM674 360h1v1h-1zM972 360h1v1h-1zM1002 360h1v1h-1zM1130 360h1v1h-1zM673 361h1v1h-1zM972 361h1v1h-1zM1002 361h1v1h-1zM1130 361h1v1h-1zM673 362h1v1h-1zM972 362h1v1h-1zM1002 362h1v1h-1zM1131 362h1v1h-1zM673 363h1v1h-1zM972 363h1v1h-1zM1001 363h1v1h-1zM1131 363h1v1h-1zM673 364h1v1h-1zM973 364h1v1h-1zM1001 364h1v1h-1zM1132 364h1v1h-1zM673 365h1v1h-1zM973 365h1v1h-1zM1001 365h1v1h-1zM1132 365h1v1h-1zM672 366h1v1h-1zM973 366h1v1h-1zM1000 366h1v1h-1zM1133 366h1v1h-1zM672 367h1v1h-1zM973 367h1v1h-1zM1000 367h1v1h-1zM1133 367h1v1h-1zM672 368h1v1h-1zM974 368h1v1h-1zM1000 368h1v1h-1zM1134 368h1v1h-1zM672 369h1v1h-1zM974 369h1v1h-1zM999 369h1v1h-1zM1134 369h1v1h-1zM672 370h1v1h-1zM975 370h1v1h-1zM999 370h1v1h-1zM1134 370h1v1h-1zM671 371h1v1h-1zM975 371h1v1h-1zM999 371h1v1h-1zM1135 371h1v1h-1zM671 372h1v1h-1zM976 372h1v1h-1zM998 372h1v1h-1zM1135 372h1v1h-1zM671 373h1v1h-1zM976 373h1v1h-1zM998 373h1v1h-1zM1136 373h1v1h-1zM671 374h1v1h-1zM977 374h1v1h-1zM998 374h1v1h-1zM1136 374h1v1h-1zM671 375h1v1h-1zM977 375h1v1h-1zM997 375h1v1h-1zM1136 375h1v1h-1zM670 376h1v1h-1zM978 376h1v1h-1zM997 376h1v1h-1zM1137 376h1v1h-1zM670 377h1v1h-1zM979 377h1v1h-1zM997 377h1v1h-1zM1137 377h1v1h-1zM670 378h1v1h-1zM979 378h1v1h-1zM996 378h1v1h-1zM1137 378h1v1h-1zM670 379h1v1h-1zM980 379h1v1h-1zM996 379h1v1h-1zM1138 379h1v1h-1zM670 380h1v1h-1zM981 380h1v1h-1zM995 380h1v1h-1zM1138 380h1v1h-1zM669 381h1v1h-1zM982 381h1v1h-1zM995 381h1v1h-1zM1139 381h1v1h-1zM669 382h1v1h-1zM983 382h1v1h-1zM994 382h1v1h-1zM1139 382h1v1h-1zM669 383h1v1h-1zM984 383h1v1h-1zM994 383h1v1h-1zM1140 383h1v1h-1zM669 384h1v1h-1zM985 384h2v1h-2zM993 384h1v1h-1zM1140 384h1v1h-1zM668 385h1v1h-1zM987 385h2v1h-2zM992 385h2v1h-2zM1141 385h1v1h-1zM668 386h1v1h-1zM989 386h3v1h-3zM1142 386h1v1h-1zM668 387h1v1h-1zM1142 387h1v1h-1zM667 388h1v1h-1zM1143 388h1v1h-1zM667 389h1v1h-1zM1144 389h1v1h-1zM666 390h1v1h-1zM1144 390h1v1h-1zM666 391h1v1h-1zM1145 391h1v1h-1zM666 392h1v1h-1zM1146 392h2v1h-2zM665 393h1v1h-1zM1148 393h1v1h-1zM665 394h1v1h-1zM1149 394h2v1h-2zM664 395h1v1h-1zM1151 395h2v1h-2zM1172 395h2v1h-2zM662 396h2v1h-2zM1153 396h3v1h-3zM1164 396h8v1h-8zM1174 396h1v1h-1zM660 397h2v1h-2zM1156 397h8v1h-8zM1175 397h1v1h-1zM653 398h7v1h-7zM1176 398h1v1h-1zM651 399h2v1h-2zM1177 399h1v1h-1zM649 400h2v1h-2zM1178 400h1v1h-1zM648 401h1v1h-1zM1178 401h1v1h-1zM646 402h2v1h-2zM1179 402h1v1h-1zM645 403h1v1h-1zM1180 403h1v1h-1zM644 404h1v1h-1zM1180 404h1v1h-1zM644 405h1v1h-1zM1181 405h1v1h-1zM643 406h1v1h-1zM1182 406h1v1h-1zM642 407h1v1h-1zM1182 407h1v1h-1zM642 408h1v1h-1zM1183 408h1v1h-1zM641 409h1v1h-1zM1184 409h1v1h-1zM641 410h1v1h-1zM1184 410h1v1h-1zM640 411h1v1h-1zM1185 411h3v1h-3zM1200 411h4v1h-4zM640 412h1v1h-1zM1188 412h12v1h-12zM1204 412h2v1h-2zM639 413h1v1h-1zM1205 413h1v1h-1zM639 414h1v1h-1zM1206 414h1v1h-1zM638 415h1v1h-1zM1206 415h1v1h-1zM145 416h3v1h-3zM638 416h1v1h-1zM1206 416h1v1h-1zM143 417h2v1h-2zM148 417h2v1h-2zM637 417h1v1h-1zM1207 417h1v1h-1zM141 418h2v1h-2zM150 418h2v1h-2zM637 418h1v1h-1zM1207 418h1v1h-1zM140 419h1v1h-1zM152 419h1v1h-1zM636 419h1v1h-1zM1208 419h1v1h-1zM25 420h3v1h-3zM139 420h1v1h-1zM153 420h1v1h-1zM636 420h1v1h-1zM1208 420h1v1h-1zM23 421h2v1h-2zM28 421h2v1h-2zM138 421h1v1h-1zM154 421h1v1h-1zM635 421h1v1h-1zM1208 421h1v1h-1zM21 422h2v1h-2zM30 422h1v1h-1zM137 422h1v1h-1zM154 422h1v1h-1zM573 422h5v1h-5zM635 422h1v1h-1zM1209 422h1v1h-1zM19 423h2v1h-2zM31 423h1v1h-1zM136 423h1v1h-1zM155 423h1v1h-1zM571 423h2v1h-2zM578 423h2v1h-2zM634 423h1v1h-1zM1209 423h1v1h-1zM5 424h3v1h-3zM16 424h3v1h-3zM31 424h1v1h-1zM134 424h2v1h-2zM156 424h1v1h-1zM312 424h12v1h-12zM569 424h2v1h-2zM580 424h1v1h-1zM634 424h1v1h-1zM1210 424h1v1h-1zM8 425h8v1h-8zM32 425h1v1h-1zM133 425h1v1h-1zM156 425h1v1h-1zM309 425h3v1h-3zM324 425h4v1h-4zM568 425h1v1h-1zM581 425h2v1h-2zM633 425h1v1h-1zM1210 425h1v1h-1zM33 426h1v1h-1zM132 426h1v1h-1zM157 426h1v1h-1zM308 426h1v1h-1zM328 426h4v1h-4zM336 426h3v1h-3zM566 426h2v1h-2zM583 426h2v1h-2zM633 426h1v1h-1zM1211 426h1v1h-1zM33 427h1v1h-1zM131 427h1v1h-1zM158 427h1v1h-1zM306 427h2v1h-2zM332 427h4v1h-4zM339 427h2v1h-2zM565 427h1v1h-1zM585 427h1v1h-1zM632 427h1v1h-1zM1211 427h1v1h-1zM34 428h1v1h-1zM130 428h1v1h-1zM158 428h1v1h-1zM305 428h1v1h-1zM341 428h1v1h-1zM564 428h1v1h-1zM586 428h2v1h-2zM632 428h1v1h-1zM1212 428h1v1h-1zM34 429h1v1h-1zM129 429h1v1h-1zM159 429h1v1h-1zM304 429h1v1h-1zM342 429h1v1h-1zM562 429h2v1h-2zM588 429h1v1h-1zM631 429h1v1h-1zM1212 429h1v1h-1zM35 430h1v1h-1zM88 430h8v1h-8zM128 430h1v1h-1zM159 430h1v1h-1zM303 430h1v1h-1zM343 430h1v1h-1zM561 430h1v1h-1zM589 430h1v1h-1zM631 430h1v1h-1zM1213 430h1v1h-1zM35 431h1v1h-1zM84 431h4v1h-4zM96 431h16v1h-16zM127 431h1v1h-1zM160 431h1v1h-1zM302 431h1v1h-1zM343 431h1v1h-1zM560 431h1v1h-1zM590 431h2v1h-2zM630 431h1v1h-1zM1214 431h1v1h-1zM36 432h1v1h-1zM80 432h4v1h-4zM112 432h4v1h-4zM126 432h1v1h-1zM160 432h1v1h-1zM301 432h1v1h-1zM344 432h1v1h-1zM559 432h1v1h-1zM592 432h1v1h-1zM630 432h1v1h-1zM1215 432h1v1h-1zM36 433h1v1h-1zM77 433h3v1h-3zM116 433h4v1h-4zM124 433h2v1h-2zM161 433h1v1h-1zM300 433h1v1h-1zM345 433h2v1h-2zM558 433h1v1h-1zM593 433h2v1h-2zM629 433h1v1h-1zM1215 433h1v1h-1zM37 434h1v1h-1zM76 434h1v1h-1zM120 434h4v1h-4zM162 434h1v1h-1zM299 434h1v1h-1zM347 434h2v1h-2zM557 434h1v1h-1zM595 434h2v1h-2zM628 434h1v1h-1zM1216 434h1v1h-1zM37 435h1v1h-1zM75 435h1v1h-1zM162 435h1v1h-1zM298 435h1v1h-1zM349 435h2v1h-2zM556 435h1v1h-1zM597 435h2v1h-2zM627 435h1v1h-1zM1217 435h1v1h-1zM38 436h1v1h-1zM74 436h1v1h-1zM163 436h1v1h-1zM297 436h1v1h-1zM351 436h2v1h-2zM555 436h1v1h-1zM599 436h2v1h-2zM627 436h1v1h-1zM1218 436h1v1h-1zM38 437h1v1h-1zM73 437h1v1h-1zM164 437h1v1h-1zM296 437h1v1h-1zM353 437h1v1h-1zM554 437h1v1h-1zM601 437h3v1h-3zM626 437h1v1h-1zM1219 437h1v1h-1zM39 438h1v1h-1zM72 438h1v1h-1zM164 438h1v1h-1zM294 438h2v1h-2zM354 438h2v1h-2zM553 438h1v1h-1zM604 438h4v1h-4zM625 438h1v1h-1zM1220 438h1v1h-1zM39 439h1v1h-1zM71 439h1v1h-1zM165 439h1v1h-1zM293 439h1v1h-1zM356 439h1v1h-1zM552 439h1v1h-1zM608 439h4v1h-4zM624 439h1v1h-1zM1221 439h1v1h-1zM40 440h1v1h-1zM70 440h1v1h-1zM166 440h1v1h-1zM280 440h4v1h-4zM292 440h1v1h-1zM357 440h3v1h-3zM364 440h2v1h-2zM551 440h1v1h-1zM612 440h4v1h-4zM622 440h2v1h-2zM1222 440h1v1h-1zM40 441h1v1h-1zM69 441h1v1h-1zM166 441h1v1h-1zM273 441h7v1h-7zM284 441h4v1h-4zM290 441h2v1h-2zM360 441h4v1h-4zM366 441h2v1h-2zM551 441h1v1h-1zM616 441h6v1h-6zM1223 441h1v1h-1zM41 442h1v1h-1zM68 442h1v1h-1zM167 442h1v1h-1zM271 442h2v1h-2zM288 442h2v1h-2zM368 442h1v1h-1zM550 442h1v1h-1zM1223 442h1v1h-1zM41 443h1v1h-1zM68 443h1v1h-1zM168 443h1v1h-1zM269 443h2v1h-2zM369 443h1v1h-1zM549 443h1v1h-1zM1224 443h1v1h-1zM41 444h1v1h-1zM67 444h1v1h-1zM168 444h1v1h-1zM268 444h1v1h-1zM370 444h2v1h-2zM548 444h1v1h-1zM1225 444h1v1h-1zM42 445h1v1h-1zM66 445h1v1h-1zM169 445h1v1h-1zM266 445h2v1h-2zM372 445h1v1h-1zM547 445h1v1h-1zM1226 445h2v1h-2zM42 446h1v1h-1zM66 446h1v1h-1zM170 446h1v1h-1zM265 446h1v1h-1zM373 446h1v1h-1zM546 446h1v1h-1zM1228 446h1v1h-1zM43 447h1v1h-1zM65 447h1v1h-1zM171 447h1v1h-1zM263 447h2v1h-2zM374 447h1v1h-1zM545 447h1v1h-1zM1229 447h1v1h-1zM43 448h1v1h-1zM64 448h1v1h-1zM172 448h1v1h-1zM261 448h2v1h-2zM375 448h1v1h-1zM544 448h1v1h-1zM1230 448h2v1h-2zM44 449h1v1h-1zM63 449h1v1h-1zM173 449h1v1h-1zM260 449h1v1h-1zM376 449h1v1h-1zM543 449h1v1h-1zM1232 449h1v1h-1zM44 450h1v1h-1zM63 450h1v1h-1zM174 450h2v1h-2zM259 450h1v1h-1zM377 450h1v1h-1zM542 450h1v1h-1zM1233 450h1v1h-1zM45 451h1v1h-1zM62 451h1v1h-1zM176 451h1v1h-1zM258 451h1v1h-1zM378 451h2v1h-2zM541 451h1v1h-1zM1234 451h2v1h-2zM46 452h1v1h-1zM61 452h1v1h-1zM177 452h1v1h-1zM257 452h1v1h-1zM380 452h1v1h-1zM540 452h1v1h-1zM1236 452h1v1h-1zM1244 452h8v1h-8zM47 453h1v1h-1zM60 453h1v1h-1zM178 453h1v1h-1zM256 453h1v1h-1zM381 453h1v1h-1zM539 453h1v1h-1zM1237 453h7v1h-7zM1252 453h2v1h-2zM47 454h1v1h-1zM59 454h1v1h-1zM179 454h1v1h-1zM255 454h1v1h-1zM382 454h1v1h-1zM538 454h1v1h-1zM1254 454h1v1h-1zM48 455h1v1h-1zM59 455h1v1h-1zM180 455h1v1h-1zM254 455h1v1h-1zM383 455h1v1h-1zM537 455h1v1h-1zM1255 455h1v1h-1zM49 456h2v1h-2zM58 456h1v1h-1zM181 456h1v1h-1zM253 456h1v1h-1zM384 456h1v1h-1zM536 456h1v1h-1zM1255 456h1v1h-1zM51 457h2v1h-2zM56 457h2v1h-2zM182 457h1v1h-1zM252 457h1v1h-1zM385 457h1v1h-1zM534 457h2v1h-2zM1256 457h1v1h-1zM53 458h3v1h-3zM183 458h1v1h-1zM250 458h2v1h-2zM386 458h1v1h-1zM533 458h1v1h-1zM1257 458h1v1h-1zM183 459h1v1h-1zM249 459h1v1h-1zM387 459h1v1h-1zM412 459h2v1h-2zM532 459h1v1h-1zM1258 459h1v1h-1zM184 460h1v1h-1zM248 460h1v1h-1zM388 460h1v1h-1zM409 460h3v1h-3zM414 460h2v1h-2zM531 460h1v1h-1zM1259 460h1v1h-1zM185 461h1v1h-1zM246 461h2v1h-2zM389 461h1v1h-1zM407 461h2v1h-2zM416 461h1v1h-1zM530 461h1v1h-1zM1259 461h1v1h-1zM186 462h1v1h-1zM244 462h2v1h-2zM390 462h2v1h-2zM405 462h2v1h-2zM417 462h1v1h-1zM529 462h1v1h-1zM1260 462h1v1h-1zM187 463h1v1h-1zM240 463h4v1h-4zM392 463h1v1h-1zM403 463h2v1h-2zM418 463h1v1h-1zM528 463h1v1h-1zM1261 463h1v1h-1zM187 464h1v1h-1zM237 464h3v1h-3zM393 464h10v1h-10zM419 464h1v1h-1zM527 464h1v1h-1zM1262 464h1v1h-1zM188 465h1v1h-1zM236 465h1v1h-1zM420 465h1v1h-1zM526 465h1v1h-1zM1262 465h1v1h-1zM189 466h1v1h-1zM234 466h2v1h-2zM421 466h1v1h-1zM525 466h1v1h-1zM1263 466h1v1h-1zM190 467h1v1h-1zM233 467h1v1h-1zM422 467h1v1h-1zM524 467h1v1h-1zM1263 467h1v1h-1zM191 468h1v1h-1zM232 468h1v1h-1zM422 468h1v1h-1zM523 468h1v1h-1zM1264 468h1v1h-1zM191 469h1v1h-1zM231 469h1v1h-1zM423 469h1v1h-1zM522 469h1v1h-1zM1264 469h1v1h-1zM192 470h1v1h-1zM230 470h1v1h-1zM424 470h1v1h-1zM521 470h1v1h-1zM1265 470h1v1h-1zM193 471h1v1h-1zM229 471h1v1h-1zM424 471h1v1h-1zM520 471h1v1h-1zM1266 471h1v1h-1zM194 472h2v1h-2zM228 472h1v1h-1zM425 472h1v1h-1zM519 472h1v1h-1zM1267 472h1v1h-1zM196 473h1v1h-1zM227 473h1v1h-1zM426 473h1v1h-1zM519 473h1v1h-1zM1268 473h1v1h-1zM197 474h1v1h-1zM227 474h1v1h-1zM426 474h1v1h-1zM518 474h1v1h-1zM1269 474h1v1h-1zM198 475h1v1h-1zM226 475h1v1h-1zM427 475h1v1h-1zM517 475h1v1h-1zM199 476h1v1h-1zM225 476h1v1h-1zM428 476h1v1h-1zM516 476h1v1h-1zM200 477h1v1h-1zM224 477h1v1h-1zM428 477h1v1h-1zM515 477h1v1h-1zM201 478h2v1h-2zM223 478h1v1h-1zM429 478h1v1h-1zM515 478h1v1h-1zM203 479h2v1h-2zM223 479h1v1h-1zM429 479h1v1h-1zM514 479h1v1h-1zM205 480h1v1h-1zM222 480h1v1h-1zM430 480h1v1h-1zM513 480h1v1h-1zM206 481h2v1h-2zM221 481h1v1h-1zM430 481h1v1h-1zM512 481h1v1h-1zM208 482h1v1h-1zM220 482h1v1h-1zM431 482h1v1h-1zM511 482h1v1h-1zM209 483h2v1h-2zM219 483h1v1h-1zM431 483h1v1h-1zM511 483h1v1h-1zM211 484h2v1h-2zM218 484h1v1h-1zM431 484h1v1h-1zM510 484h1v1h-1zM213 485h5v1h-5zM432 485h1v1h-1zM509 485h1v1h-1zM432 486h1v1h-1zM508 486h1v1h-1zM433 487h1v1h-1zM480 487h4v1h-4zM506 487h2v1h-2zM433 488h1v1h-1zM477 488h3v1h-3zM484 488h4v1h-4zM504 488h2v1h-2zM433 489h1v1h-1zM475 489h2v1h-2zM488 489h4v1h-4zM500 489h4v1h-4zM434 490h1v1h-1zM473 490h2v1h-2zM492 490h8v1h-8zM434 491h1v1h-1zM472 491h1v1h-1zM435 492h1v1h-1zM471 492h1v1h-1zM435 493h1v1h-1zM470 493h1v1h-1zM436 494h1v1h-1zM469 494h1v1h-1zM436 495h1v1h-1zM468 495h1v1h-1zM437 496h1v1h-1zM467 496h1v1h-1zM438 497h1v1h-1zM467 497h1v1h-1zM438 498h1v1h-1zM466 498h1v1h-1zM439 499h1v1h-1zM465 499h1v1h-1zM440 500h1v1h-1zM464 500h1v1h-1zM440 501h1v1h-1zM463 501h1v1h-1zM441 502h1v1h-1zM463 502h1v1h-1zM442 503h1v1h-1zM462 503h1v1h-1zM443 504h1v1h-1zM461 504h1v1h-1zM444 505h1v1h-1zM460 505h1v1h-1zM445 506h1v1h-1zM459 506h1v1h-1zM446 507h2v1h-2zM458 507h1v1h-1zM448 508h1v1h-1zM456 508h2v1h-2zM449 509h7v1h-7z" fill="#ffa500"/>
<path d="M749 156h2v1h-2zM748 157h1v1h-1zM751 157h2v1h-2zM746 158h2v1h-2zM753 158h1v1h-1zM745 159h1v1h-1zM754 159h1v1h-1zM744 160h1v1h-1zM754 160h1v1h-1zM743 161h1v1h-1zM755 161h1v1h-1zM742 162h1v1h-1zM756 162h1v1h-1zM741 163h1v1h-1zM756 163h1v1h-1zM740 164h1v1h-1zM757 164h1v1h-1zM739 165h1v1h-1zM758 165h1v1h-1zM738 166h1v1h-1zM758 166h1v1h-1zM737 167h1v1h-1zM759 167h1v1h-1zM736 168h1v1h-1zM760 168h1v1h-1zM735 169h1v1h-1zM760 169h1v1h-1zM734 170h1v1h-1zM761 170h1v1h-1zM733 171h1v1h-1zM762 171h1v1h-1zM732 172h1v1h-1zM762 172h1v1h-1zM731 173h1v1h-1zM763 173h1v1h-1zM730 174h1v1h-1zM764 174h1v1h-1zM729 175h1v1h-1zM764 175h1v1h-1zM728 176h1v1h-1zM765 176h1v1h-1zM728 177h1v1h-1zM765 177h1v1h-1zM727 178h1v1h-1zM766 178h1v1h-1zM727 179h1v1h-1zM766 179h1v1h-1zM726 180h1v1h-1zM767 180h1v1h-1zM726 181h1v1h-1zM767 181h1v1h-1zM725 182h1v1h-1zM767 182h1v1h-1zM725 183h1v1h-1zM768 183h1v1h-1zM725 184h1v1h-1zM768 184h1v1h-1zM724 185h1v1h-1zM769 185h1v1h-1zM724 186h1v1h-1zM769 186h1v1h-1zM724 187h1v1h-1zM769 187h1v1h-1zM724 188h1v1h-1zM770 188h1v1h-1zM723 189h1v1h-1zM770 189h1v1h-1zM723 190h1v1h-1zM771 190h1v1h-1zM723 191h1v1h-1zM771 191h1v1h-1zM722 192h1v1h-1zM772 192h1v1h-1zM722 193h1v1h-1zM772 193h1v1h-1zM722 194h1v1h-1zM773 194h1v1h-1zM722 195h1v1h-1zM773 195h1v1h-1zM721 196h1v1h-1zM773 196h1v1h-1zM721 197h1v1h-1zM774 197h1v1h-1zM721 198h1v1h-1zM774 198h1v1h-1zM721 199h1v1h-1zM775 199h1v1h-1zM720 200h1v1h-1zM775 200h1v1h-1zM720 201h1v1h-1zM776 201h1v1h-1zM720 202h1v1h-1zM776 202h1v1h-1zM720 203h1v1h-1zM777 203h1v1h-1zM720 204h1v1h-1zM777 204h1v1h-1zM719 205h1v1h-1zM778 205h1v1h-1zM719 206h1v1h-1zM778 206h1v1h-1zM719 207h1v1h-1zM779 207h1v1h-1zM719 208h1v1h-1zM780 208h1v1h-1zM719 209h1v1h-1zM780 209h1v1h-1zM719 210h1v1h-1zM781 210h1v1h-1zM718 211h1v1h-1zM782 211h2v1h-2zM718 212h1v1h-1zM784 212h1v1h-1zM718 213h1v1h-1zM785 213h3v1h-3zM718 214h1v1h-1zM788 214h3v1h-3zM718 215h1v1h-1zM791 215h2v1h-2zM717 216h1v1h-1zM793 216h7v1h-7zM840 216h24v1h-24zM717 217h1v1h-1zM800 217h2v1h-2zM836 217h4v1h-4zM864 217h7v1h-7zM717 218h1v1h-1zM802 218h2v1h-2zM833 218h3v1h-3zM871 218h2v1h-2zM717 219h1v1h-1zM804 219h1v1h-1zM831 219h2v1h-2zM873 219h1v1h-1zM717 220h1v1h-1zM805 220h2v1h-2zM829 220h2v1h-2zM874 220h2v1h-2zM905 220h3v1h-3zM716 221h1v1h-1zM807 221h2v1h-2zM827 221h2v1h-2zM876 221h1v1h-1zM903 221h2v1h-2zM908 221h2v1h-2zM716 222h1v1h-1zM809 222h3v1h-3zM824 222h3v1h-3zM877 222h2v1h-2zM901 222h2v1h-2zM910 222h1v1h-1zM716 223h1v1h-1zM812 223h12v1h-12zM879 223h2v1h-2zM900 223h1v1h-1zM911 223h1v1h-1zM716 224h1v1h-1zM881 224h2v1h-2zM899 224h1v1h-1zM912 224h1v1h-1zM716 225h1v1h-1zM883 225h2v1h-2zM898 225h1v1h-1zM913 225h1v1h-1zM716 226h1v1h-1zM885 226h2v1h-2zM897 226h1v1h-1zM914 226h2v1h-2zM715 227h1v1h-1zM887 227h2v1h-2zM896 227h1v1h-1zM916 227h1v1h-1zM715 228h1v1h-1zM889 228h3v1h-3zM894 228h2v1h-2zM917 228h2v1h-2zM715 229h1v1h-1zM892 229h2v1h-2zM919 229h2v1h-2zM715 230h1v1h-1zM921 230h2v1h-2zM715 231h1v1h-1zM923 231h2v1h-2zM715 232h1v1h-1zM925 232h10v1h-10zM714 233h1v1h-1zM935 233h2v1h-2zM714 234h1v1h-1zM937 234h1v1h-1zM714 235h1v1h-1zM938 235h2v1h-2zM714 236h1v1h-1zM940 236h1v1h-1zM714 237h1v1h-1zM941 237h1v1h-1zM714 238h1v1h-1zM942 238h1v1h-1zM713 239h1v1h-1zM943 239h1v1h-1zM713 240h1v1h-1zM943 240h1v1h-1zM713 241h1v1h-1zM944 241h1v1h-1zM713 242h1v1h-1zM945 242h1v1h-1zM712 243h1v1h-1zM946 243h1v1h-1zM712 244h1v1h-1zM947 244h1v1h-1zM712 245h1v1h-1zM947 245h1v1h-1zM712 246h1v1h-1zM948 246h1v1h-1zM711 247h1v1h-1zM949 247h1v1h-1zM711 248h1v1h-1zM950 248h1v1h-1zM711 249h1v1h-1zM950 249h1v1h-1zM711 250h1v1h-1zM951 250h1v1h-1zM710 251h1v1h-1zM952 251h1v1h-1zM710 252h1v1h-1zM952 252h1v1h-1zM710 253h1v1h-1zM953 253h1v1h-1zM710 254h1v1h-1zM953 254h1v1h-1zM709 255h1v1h-1zM954 255h1v1h-1zM709 256h1v1h-1zM954 256h1v1h-1zM709 257h1v1h-1zM955 257h1v1h-1zM709 258h1v1h-1zM955 258h1v1h-1zM708 259h1v1h-1zM956 259h1v1h-1zM708 260h1v1h-1zM956 260h1v1h-1zM708 261h1v1h-1zM957 261h1v1h-1zM708 262h1v1h-1zM957 262h1v1h-1zM707 263h1v1h-1zM958 263h1v1h-1zM707 264h1v1h-1zM958 264h1v1h-1zM707 265h1v1h-1zM958 265h1v1h-1zM707 266h1v1h-1zM959 266h1v1h-1zM707 267h1v1h-1zM959 267h1v1h-1zM706 268h1v1h-1zM959 268h1v1h-1zM706 269h1v1h-1zM960 269h1v1h-1zM706 270h1v1h-1zM960 270h1v1h-1zM706 271h1v1h-1zM960 271h1v1h-1zM705 272h1v1h-1zM961 272h1v1h-1zM705 273h1v1h-1zM961 273h1v1h-1zM705 274h1v1h-1zM961 274h1v1h-1zM705 275h1v1h-1zM962 275h1v1h-1zM705 276h1v1h-1zM962 276h1v1h-1zM704 277h1v1h-1zM963 277h1v1h-1zM704 278h1v1h-1zM963 278h1v1h-1zM704 279h1v1h-1zM964 279h1v1h-1zM704 280h1v1h-1zM964 280h1v1h-1zM704 281h1v1h-1zM965 281h1v1h-1zM704 282h1v1h-1zM965 282h1v1h-1zM703 283h1v1h-1zM966 283h1v1h-1zM703 284h1v1h-1zM966 284h1v1h-1zM703 285h1v1h-1zM967 285h1v1h-1zM703 286h1v1h-1zM967 286h1v1h-1zM703 287h1v1h-1zM968 287h1v1h-1zM702 288h1v1h-1zM968 288h1v1h-1zM702 289h1v1h-1zM969 289h1v1h-1zM702 290h1v1h-1zM969 290h1v1h-1zM702 291h1v1h-1zM970 291h1v1h-1zM702 292h1v1h-1zM970 292h1v1h-1zM702 293h1v1h-1zM970 293h1v1h-1zM701 294h1v1h-1zM971 294h1v1h-1zM701 295h1v1h-1zM971 295h1v1h-1zM701 296h1v1h-1zM972 296h1v1h-1zM701 297h1v1h-1zM972 297h1v1h-1zM701 298h1v1h-1zM972 298h1v1h-1zM700 299h1v1h-1zM973 299h1v1h-1zM700 300h1v1h-1zM973 300h1v1h-1zM700 301h1v1h-1zM973 301h1v1h-1zM700 302h1v1h-1zM974 302h1v1h-1zM700 303h1v1h-1zM974 303h1v1h-1zM699 304h1v1h-1zM975 304h1v1h-1zM699 305h1v1h-1zM975 305h1v1h-1zM699 306h1v1h-1zM975 306h1v1h-1zM699 307h1v1h-1zM976 307h1v1h-1zM699 308h1v1h-1zM976 308h1v1h-1zM699 309h1v1h-1zM977 309h1v1h-1zM698 310h1v1h-1zM977 310h1v1h-1zM698 311h1v1h-1zM977 311h1v1h-1zM698 312h1v1h-1zM978 312h1v1h-1zM698 313h1v1h-1zM978 313h1v1h-1zM698 314h1v1h-1zM978 314h1v1h-1zM697 315h1v1h-1zM979 315h1v1h-1zM697 316h1v1h-1zM979 316h1v1h-1zM697 317h1v1h-1zM979 317h1v1h-1zM697 318h1v1h-1zM980 318h1v1h-1zM697 319h1v1h-1zM980 319h1v1h-1zM696 320h1v1h-1zM980 320h1v1h-1zM696 321h1v1h-1zM981 321h1v1h-1zM696 322h1v1h-1zM981 322h1v1h-1zM696 323h1v1h-1zM981 323h1v1h-1zM695 324h1v1h-1zM982 324h1v1h-1zM695 325h1v1h-1zM982 325h1v1h-1zM695 326h1v1h-1zM982 326h1v1h-1zM695 327h1v1h-1zM983 327h1v1h-1zM695 328h1v1h-1zM983 328h1v1h-1zM694 329h1v1h-1zM983 329h1v1h-1zM694 330h1v1h-1zM984 330h1v1h-1zM694 331h1v1h-1zM984 331h1v1h-1zM694 332h1v1h-1zM984 332h1v1h-1zM693 333h1v1h-1zM985 333h1v1h-1zM693 334h1v1h-1zM985 334h1v1h-1zM693 335h1v1h-1zM985 335h1v1h-1zM693 336h1v1h-1zM986 336h1v1h-1zM692 337h1v1h-1zM986 337h1v1h-1zM692 338h1v1h-1zM987 338h1v1h-1zM1053 338h19v1h-19zM692 339h1v1h-1zM987 339h1v1h-1zM1051 339h2v1h-2zM1072 339h4v1h-4zM691 340h1v1h-1zM987 340h1v1h-1zM1049 340h2v1h-2zM1076 340h19v1h-19zM691 341h1v1h-1zM988 341h1v1h-1zM1047 341h2v1h-2zM1095 341h2v1h-2zM691 342h1v1h-1zM988 342h1v1h-1zM1045 342h2v1h-2zM1097 342h2v1h-2zM691 343h1v1h-1zM989 343h1v1h-1zM1044 343h1v1h-1zM1099 343h2v1h-2zM690 344h1v1h-1zM989 344h1v1h-1zM1043 344h1v1h-1zM1101 344h2v1h-2zM690 345h1v1h-1zM990 345h1v1h-1zM1043 345h1v1h-1zM1103 345h2v1h-2zM690 346h1v1h-1zM990 346h1v1h-1zM1042 346h1v1h-1zM1105 346h2v1h-2zM689 347h1v1h-1zM991 347h1v1h-1zM1041 347h1v1h-1zM1107 347h2v1h-2zM689 348h1v1h-1zM991 348h1v1h-1zM1040 348h1v1h-1zM1109 348h3v1h-3zM689 349h1v1h-1zM992 349h1v1h-1zM1039 349h1v1h-1zM1112 349h4v1h-4zM688 350h1v1h-1zM992 350h1v1h-1zM1039 350h1v1h-1zM1116 350h4v1h-4zM688 351h1v1h-1zM993 351h1v1h-1zM1038 351h1v1h-1zM1120 351h4v1h-4zM688 352h1v1h-1zM994 352h1v1h-1zM1037 352h1v1h-1zM1124 352h4v1h-4zM687 353h1v1h-1zM995 353h1v1h-1zM1036 353h1v1h-1zM1128 353h3v1h-3zM687 354h1v1h-1zM996 354h1v1h-1zM1035 354h1v1h-1zM1131 354h2v1h-2zM687 355h1v1h-1zM997 355h1v1h-1zM1035 355h1v1h-1zM1133 355h1v1h-1zM686 356h1v1h-1zM998 356h1v1h-1zM1034 356h1v1h-1zM1134 356h1v1h-1zM686 357h1v1h-1zM999 357h1v1h-1zM1033 357h1v1h-1zM1135 357h1v1h-1zM686 358h1v1h-1zM1000 358h1v1h-1zM1031 358h2v1h-2zM1136 358h1v1h-1zM685 359h1v1h-1zM1001 359h1v1h-1zM1029 359h2v1h-2zM1137 359h1v1h-1zM685 360h1v1h-1zM1002 360h1v1h-1zM1027 360h2v1h-2zM1138 360h2v1h-2zM685 361h1v1h-1zM1003 361h1v1h-1zM1025 361h2v1h-2zM1140 361h1v1h-1zM684 362h1v1h-1zM1004 362h1v1h-1zM1023 362h2v1h-2zM1141 362h2v1h-2zM684 363h1v1h-1zM1005 363h1v1h-1zM1020 363h3v1h-3zM1143 363h2v1h-2zM684 364h1v1h-1zM1006 364h2v1h-2zM1017 364h3v1h-3zM1145 364h1v1h-1zM683 365h1v1h-1zM1008 365h1v1h-1zM1015 365h2v1h-2zM1146 365h1v1h-1zM683 366h1v1h-1zM1009 366h6v1h-6zM1147 366h1v1h-1zM682 367h1v1h-1zM1148 367h1v1h-1zM682 368h1v1h-1zM1149 368h1v1h-1zM682 369h1v1h-1zM1150 369h1v1h-1zM681 370h1v1h-1zM1151 370h1v1h-1zM681 371h1v1h-1zM1152 371h1v1h-1zM681 372h1v1h-1zM1153 372h1v1h-1zM680 373h1v1h-1zM1154 373h1v1h-1zM680 374h1v1h-1zM1155 374h1v1h-1zM680 375h1v1h-1zM1156 375h1v1h-1zM679 376h1v1h-1zM1157 376h1v1h-1zM679 377h1v1h-1zM1158 377h2v1h-2zM679 378h1v1h-1zM1160 378h1v1h-1zM678 379h1v1h-1zM1161 379h1v1h-1zM678 380h1v1h-1zM1162 380h1v1h-1zM678 381h1v1h-1zM1163 381h1v1h-1zM677 382h1v1h-1zM1164 382h1v1h-1zM677 383h1v1h-1zM1165 383h1v1h-1zM677 384h1v1h-1zM1166 384h2v1h-2zM676 385h1v1h-1zM1168 385h1v1h-1zM676 386h1v1h-1zM1169 386h1v1h-1zM675 387h1v1h-1zM1170 387h2v1h-2zM675 388h1v1h-1zM1172 388h1v1h-1zM675 389h1v1h-1zM1173 389h1v1h-1zM674 390h1v1h-1zM1174 390h2v1h-2zM674 391h1v1h-1zM1176 391h1v1h-1zM673 392h1v1h-1zM1177 392h1v1h-1zM673 393h1v1h-1zM1178 393h1v1h-1zM672 394h1v1h-1zM1178 394h1v1h-1zM672 395h1v1h-1zM1179 395h1v1h-1zM671 396h1v1h-1zM1180 396h1v1h-1zM671 397h1v1h-1zM1180 397h1v1h-1zM670 398h1v1h-1zM1181 398h1v1h-1zM670 399h1v1h-1zM1182 399h2v1h-2zM669 400h1v1h-1zM1184 400h1v1h-1zM669 401h1v1h-1zM1185 401h3v1h-3zM668 402h1v1h-1zM1188 402h8v1h-8zM668 403h1v1h-1zM1196 403h3v1h-3zM667 404h1v1h-1zM1199 404h2v1h-2zM666 405h1v1h-1zM1201 405h1v1h-1zM666 406h1v1h-1zM1202 406h2v1h-2zM665 407h1v1h-1zM1204 407h1v1h-1zM664 408h1v1h-1zM1205 408h2v1h-2zM663 409h1v1h-1zM1207 409h2v1h-2zM662 410h1v1h-1zM1209 410h1v1h-1zM661 411h1v1h-1zM1210 411h2v1h-2zM660 412h1v1h-1zM1212 412h1v1h-1zM659 413h1v1h-1zM1213 413h1v1h-1zM658 414h1v1h-1zM1214 414h2v1h-2zM657 415h1v1h-1zM1216 415h1v1h-1zM656 416h1v1h-1zM1217 416h1v1h-1zM654 417h2v1h-2zM1218 417h1v1h-1zM653 418h1v1h-1zM1219 418h1v1h-1zM651 419h2v1h-2zM1219 419h1v1h-1zM649 420h2v1h-2zM1220 420h1v1h-1zM648 421h1v1h-1zM1221 421h1v1h-1zM24 422h4v1h-4zM646 422h2v1h-2zM1222 422h1v1h-1zM5 423h19v1h-19zM28 423h4v1h-4zM645 423h1v1h-1zM1223 423h1v1h-1zM32 424h2v1h-2zM644 424h1v1h-1zM1224 424h1v1h-1zM34 425h2v1h-2zM149 425h7v1h-7zM642 425h2v1h-2zM1225 425h1v1h-1zM36 426h1v1h-1zM147 426h2v1h-2zM156 426h3v1h-3zM641 426h1v1h-1zM1226 426h1v1h-1zM37 427h2v1h-2zM144 427h3v1h-3zM159 427h2v1h-2zM340 427h8v1h-8zM640 427h1v1h-1zM1227 427h1v1h-1zM39 428h2v1h-2zM140 428h4v1h-4zM161 428h3v1h-3zM336 428h4v1h-4zM348 428h7v1h-7zM639 428h1v1h-1zM1228 428h1v1h-1zM41 429h1v1h-1zM136 429h4v1h-4zM164 429h4v1h-4zM332 429h4v1h-4zM355 429h2v1h-2zM596 429h8v1h-8zM638 429h1v1h-1zM1229 429h1v1h-1zM42 430h2v1h-2zM132 430h4v1h-4zM168 430h4v1h-4zM328 430h4v1h-4zM357 430h3v1h-3zM588 430h8v1h-8zM604 430h7v1h-7zM637 430h1v1h-1zM1230 430h2v1h-2zM44 431h1v1h-1zM128 431h4v1h-4zM172 431h3v1h-3zM324 431h4v1h-4zM360 431h3v1h-3zM584 431h4v1h-4zM611 431h2v1h-2zM635 431h2v1h-2zM1232 431h1v1h-1zM45 432h1v1h-1zM124 432h4v1h-4zM175 432h2v1h-2zM320 432h4v1h-4zM363 432h2v1h-2zM581 432h3v1h-3zM613 432h3v1h-3zM633 432h2v1h-2zM1233 432h2v1h-2zM46 433h2v1h-2zM112 433h12v1h-12zM177 433h1v1h-1zM316 433h4v1h-4zM365 433h2v1h-2zM579 433h2v1h-2zM616 433h4v1h-4zM631 433h2v1h-2zM1235 433h2v1h-2zM48 434h1v1h-1zM108 434h4v1h-4zM178 434h2v1h-2zM312 434h4v1h-4zM367 434h2v1h-2zM577 434h2v1h-2zM620 434h11v1h-11zM1237 434h2v1h-2zM49 435h2v1h-2zM105 435h3v1h-3zM180 435h1v1h-1zM309 435h3v1h-3zM369 435h3v1h-3zM576 435h1v1h-1zM1239 435h2v1h-2zM51 436h2v1h-2zM103 436h2v1h-2zM181 436h1v1h-1zM307 436h2v1h-2zM372 436h2v1h-2zM574 436h2v1h-2zM1241 436h1v1h-1zM53 437h3v1h-3zM101 437h2v1h-2zM182 437h1v1h-1zM305 437h2v1h-2zM374 437h2v1h-2zM573 437h1v1h-1zM1242 437h2v1h-2zM56 438h4v1h-4zM99 438h2v1h-2zM183 438h1v1h-1zM303 438h2v1h-2zM376 438h1v1h-1zM572 438h1v1h-1zM1244 438h1v1h-1zM60 439h4v1h-4zM97 439h2v1h-2zM184 439h1v1h-1zM301 439h2v1h-2zM377 439h2v1h-2zM570 439h2v1h-2zM1245 439h1v1h-1zM64 440h8v1h-8zM95 440h2v1h-2zM185 440h1v1h-1zM299 440h2v1h-2zM379 440h2v1h-2zM569 440h1v1h-1zM1246 440h1v1h-1zM72 441h3v1h-3zM93 441h2v1h-2zM186 441h1v1h-1zM297 441h2v1h-2zM381 441h1v1h-1zM568 441h1v1h-1zM1247 441h1v1h-1zM75 442h2v1h-2zM91 442h2v1h-2zM187 442h1v1h-1zM296 442h1v1h-1zM382 442h2v1h-2zM567 442h1v1h-1zM1248 442h1v1h-1zM77 443h3v1h-3zM88 443h3v1h-3zM187 443h1v1h-1zM294 443h2v1h-2zM384 443h1v1h-1zM566 443h1v1h-1zM1249 443h1v1h-1zM80 444h8v1h-8zM188 444h1v1h-1zM293 444h1v1h-1zM385 444h1v1h-1zM565 444h1v1h-1zM1250 444h1v1h-1zM189 445h1v1h-1zM292 445h1v1h-1zM386 445h2v1h-2zM564 445h1v1h-1zM1251 445h1v1h-1zM190 446h1v1h-1zM290 446h2v1h-2zM388 446h1v1h-1zM563 446h1v1h-1zM1251 446h1v1h-1zM191 447h1v1h-1zM289 447h1v1h-1zM389 447h1v1h-1zM562 447h1v1h-1zM1252 447h1v1h-1zM192 448h1v1h-1zM287 448h2v1h-2zM390 448h2v1h-2zM561 448h1v1h-1zM1253 448h1v1h-1zM193 449h1v1h-1zM284 449h3v1h-3zM392 449h1v1h-1zM560 449h1v1h-1zM1254 449h2v1h-2zM194 450h1v1h-1zM281 450h3v1h-3zM393 450h3v1h-3zM558 450h2v1h-2zM1256 450h1v1h-1zM195 451h1v1h-1zM279 451h2v1h-2zM396 451h4v1h-4zM557 451h1v1h-1zM1257 451h2v1h-2zM195 452h1v1h-1zM276 452h3v1h-3zM400 452h4v1h-4zM556 452h1v1h-1zM1259 452h2v1h-2zM196 453h1v1h-1zM273 453h3v1h-3zM404 453h3v1h-3zM555 453h1v1h-1zM1261 453h1v1h-1zM197 454h1v1h-1zM272 454h1v1h-1zM407 454h2v1h-2zM555 454h1v1h-1zM1262 454h2v1h-2zM198 455h1v1h-1zM270 455h2v1h-2zM409 455h2v1h-2zM554 455h1v1h-1zM1264 455h1v1h-1zM199 456h1v1h-1zM269 456h1v1h-1zM411 456h2v1h-2zM553 456h1v1h-1zM1265 456h2v1h-2zM200 457h1v1h-1zM268 457h1v1h-1zM413 457h2v1h-2zM552 457h1v1h-1zM1267 457h2v1h-2zM201 458h1v1h-1zM266 458h2v1h-2zM415 458h2v1h-2zM551 458h1v1h-1zM1269 458h1v1h-1zM202 459h1v1h-1zM265 459h1v1h-1zM417 459h1v1h-1zM550 459h1v1h-1zM203 460h1v1h-1zM264 460h1v1h-1zM418 460h2v1h-2zM549 460h1v1h-1zM203 461h1v1h-1zM263 461h1v1h-1zM420 461h1v1h-1zM548 461h1v1h-1zM204 462h1v1h-1zM262 462h1v1h-1zM421 462h1v1h-1zM547 462h1v1h-1zM205 463h1v1h-1zM261 463h1v1h-1zM422 463h2v1h-2zM546 463h1v1h-1zM206 464h1v1h-1zM260 464h1v1h-1zM424 464h1v1h-1zM545 464h1v1h-1zM207 465h1v1h-1zM258 465h2v1h-2zM425 465h1v1h-1zM544 465h1v1h-1zM207 466h1v1h-1zM257 466h1v1h-1zM426 466h2v1h-2zM543 466h1v1h-1zM208 467h1v1h-1zM255 467h2v1h-2zM428 467h1v1h-1zM542 467h1v1h-1zM209 468h1v1h-1zM253 468h2v1h-2zM429 468h1v1h-1zM541 468h1v1h-1zM210 469h2v1h-2zM251 469h2v1h-2zM430 469h1v1h-1zM540 469h1v1h-1zM212 470h1v1h-1zM249 470h2v1h-2zM431 470h1v1h-1zM539 470h1v1h-1zM213 471h3v1h-3zM247 471h2v1h-2zM432 471h1v1h-1zM538 471h1v1h-1zM216 472h4v1h-4zM245 472h2v1h-2zM433 472h1v1h-1zM537 472h1v1h-1zM220 473h4v1h-4zM243 473h2v1h-2zM434 473h2v1h-2zM536 473h1v1h-1zM224 474h3v1h-3zM240 474h3v1h-3zM436 474h1v1h-1zM534 474h2v1h-2zM227 475h2v1h-2zM236 475h4v1h-4zM437 475h2v1h-2zM533 475h1v1h-1zM229 476h7v1h-7zM439 476h2v1h-2zM531 476h2v1h-2zM441 477h1v1h-1zM529 477h2v1h-2zM442 478h2v1h-2zM528 478h1v1h-1zM444 479h1v1h-1zM526 479h2v1h-2zM445 480h1v1h-1zM525 480h1v1h-1zM446 481h2v1h-2zM523 481h2v1h-2zM448 482h1v1h-1zM520 482h3v1h-3zM449 483h1v1h-1zM517 483h3v1h-3zM450 484h2v1h-2zM515 484h2v1h-2zM452 485h1v1h-1zM513 485h2v1h-2zM453 486h1v1h-1zM512 486h1v1h-1zM454 487h1v1h-1zM510 487h2v1h-2zM455 488h1v1h-1zM509 488h1v1h-1zM456 489h1v1h-1zM508 489h1v1h-1zM457 490h1v1h-1zM506 490h2v1h-2zM458 491h2v1h-2zM504 491h2v1h-2zM460 492h1v1h-1zM501 492h3v1h-3zM461 493h2v1h-2zM499 493h2v1h-2zM463 494h2v1h-2zM496 494h3v1h-3zM465 495h2v1h-2zM493 495h3v1h-3zM467 496h2v1h-2zM491 496h2v1h-2zM469 497h7v1h-7zM489 497h2v1h-2zM476 498h4v1h-4zM487 498h2v1h-2zM480 499h7v1h-7z" fill="#ff0000"/>
<path d="M808 190h8v1h-8zM804 191h4v1h-4zM816 191h2v1h-2zM801 192h3v1h-3zM818 192h2v1h-2zM799 193h2v1h-2zM820 193h1v1h-1zM797 194h2v1h-2zM821 194h1v1h-1zM796 195h1v1h-1zM822 195h2v1h-2zM794 196h2v1h-2zM824 196h1v1h-1zM793 197h1v1h-1zM825 197h2v1h-2zM792 198h1v1h-1zM827 198h2v1h-2zM790 199h2v1h-2zM829 199h2v1h-2zM789 200h1v1h-1zM831 200h2v1h-2zM788 201h1v1h-1zM833 201h1v1h-1zM786 202h2v1h-2zM834 202h1v1h-1zM785 203h1v1h-1zM834 203h1v1h-1zM784 204h1v1h-1zM835 204h1v1h-1zM783 205h1v1h-1zM836 205h1v1h-1zM782 206h1v1h-1zM836 206h1v1h-1zM781 207h1v1h-1zM837 207h1v1h-1zM780 208h1v1h-1zM838 208h1v1h-1zM779 209h1v1h-1zM839 209h1v1h-1zM779 210h1v1h-1zM839 210h1v1h-1zM778 211h1v1h-1zM840 211h1v1h-1zM777 212h1v1h-1zM841 212h1v1h-1zM776 213h1v1h-1zM842 213h2v1h-2zM775 214h1v1h-1zM844 214h1v1h-1zM775 215h1v1h-1zM845 215h3v1h-3zM774 216h1v1h-1zM848 216h16v1h-16zM773 217h1v1h-1zM864 217h7v1h-7zM772 218h1v1h-1zM871 218h2v1h-2zM772 219h1v1h-1zM873 219h2v1h-2zM771 220h1v1h-1zM875 220h2v1h-2zM904 220h12v1h-12zM770 221h1v1h-1zM877 221h2v1h-2zM900 221h4v1h-4zM916 221h4v1h-4zM770 222h1v1h-1zM879 222h2v1h-2zM896 222h4v1h-4zM920 222h4v1h-4zM769 223h1v1h-1zM881 223h3v1h-3zM888 223h8v1h-8zM924 223h4v1h-4zM768 224h1v1h-1zM884 224h4v1h-4zM928 224h4v1h-4zM768 225h1v1h-1zM932 225h2v1h-2zM767 226h1v1h-1zM934 226h2v1h-2zM766 227h1v1h-1zM936 227h1v1h-1zM766 228h1v1h-1zM937 228h2v1h-2zM765 229h1v1h-1zM939 229h2v1h-2zM764 230h1v1h-1zM941 230h1v1h-1zM764 231h1v1h-1zM942 231h2v1h-2zM763 232h1v1h-1zM944 232h1v1h-1zM763 233h1v1h-1zM945 233h2v1h-2zM762 234h1v1h-1zM947 234h2v1h-2zM762 235h1v1h-1zM949 235h1v1h-1zM761 236h1v1h-1zM950 236h1v1h-1zM760 237h1v1h-1zM951 237h1v1h-1zM760 238h1v1h-1zM952 238h1v1h-1zM759 239h1v1h-1zM953 239h1v1h-1zM759 240h1v1h-1zM954 240h1v1h-1zM758 241h1v1h-1zM955 241h1v1h-1zM758 242h1v1h-1zM956 242h1v1h-1zM757 243h1v1h-1zM957 243h1v1h-1zM756 244h1v1h-1zM958 244h1v1h-1zM756 245h1v1h-1zM959 245h1v1h-1zM755 246h1v1h-1zM960 246h1v1h-1zM754 247h1v1h-1zM961 247h1v1h-1zM754 248h1v1h-1zM962 248h1v1h-1zM753 249h1v1h-1zM963 249h1v1h-1zM752 250h1v1h-1zM964 250h1v1h-1zM752 251h1v1h-1zM965 251h1v1h-1zM751 252h1v1h-1zM966 252h1v1h-1zM751 253h1v1h-1zM967 253h1v1h-1zM750 254h1v1h-1zM968 254h1v1h-1zM750 255h1v1h-1zM969 255h1v1h-1zM749 256h1v1h-1zM970 256h1v1h-1zM748 257h1v1h-1zM970 257h1v1h-1zM748 258h1v1h-1zM971 258h1v1h-1zM747 259h1v1h-1zM972 259h1v1h-1zM747 260h1v1h-1zM972 260h1v1h-1zM746 261h1v1h-1zM973 261h1v1h-1zM746 262h1v1h-1zM974 262h1v1h-1zM745 263h1v1h-1zM974 263h1v1h-1zM744 264h1v1h-1zM975 264h1v1h-1zM744 265h1v1h-1zM975 265h1v1h-1zM743 266h1v1h-1zM976 266h1v1h-1zM743 267h1v1h-1zM976 267h1v1h-1zM742 268h1v1h-1zM977 268h1v1h-1zM742 269h1v1h-1zM978 269h1v1h-1zM741 270h1v1h-1zM978 270h1v1h-1zM741 271h1v1h-1zM979 271h1v1h-1zM740 272h1v1h-1zM980 272h1v1h-1zM740 273h1v1h-1zM980 273h1v1h-1zM739 274h1v1h-1zM981 274h1v1h-1zM739 275h1v1h-1zM982 275h1v1h-1zM738 276h1v1h-1zM982 276h1v1h-1zM738 277h1v1h-1zM983 277h1v1h-1zM737 278h1v1h-1zM984 278h1v1h-1zM737 279h1v1h-1zM984 279h1v1h-1zM736 280h1v1h-1zM985 280h1v1h-1zM736 281h1v1h-1zM986 281h1v1h-1zM735 282h1v1h-1zM987 282h1v1h-1zM735 283h1v1h-1zM987 283h1v1h-1zM734 284h1v1h-1zM988 284h1v1h-1zM734 285h1v1h-1zM989 285h1v1h-1zM733 286h1v1h-1zM990 286h2v1h-2zM732 287h1v1h-1zM992 287h1v1h-1zM732 288h1v1h-1zM993 288h1v1h-1zM731 289h1v1h-1zM994 289h2v1h-2zM731 290h1v1h-1zM996 290h1v1h-1zM730 291h1v1h-1zM997 291h1v1h-1zM730 292h1v1h-1zM998 292h1v1h-1zM729 293h1v1h-1zM999 293h1v1h-1zM729 294h1v1h-1zM1000 294h1v1h-1zM728 295h1v1h-1zM1001 295h1v1h-1zM728 296h1v1h-1zM1002 296h1v1h-1zM727 297h1v1h-1zM1003 297h1v1h-1zM727 298h1v1h-1zM1004 298h1v1h-1zM726 299h1v1h-1zM1005 299h1v1h-1zM726 300h1v1h-1zM1006 300h1v1h-1zM725 301h1v1h-1zM1007 301h1v1h-1zM725 302h1v1h-1zM1008 302h1v1h-1zM725 303h1v1h-1zM1009 303h1v1h-1zM724 304h1v1h-1zM1010 304h1v1h-1zM724 305h1v1h-1zM1011 305h1v1h-1zM723 306h1v1h-1zM1012 306h1v1h-1zM723 307h1v1h-1zM1013 307h1v1h-1zM722 308h1v1h-1zM1014 308h1v1h-1zM722 309h1v1h-1zM1015 309h1v1h-1zM721 310h1v1h-1zM1015 310h1v1h-1zM721 311h1v1h-1zM1016 311h1v1h-1zM721 312h1v1h-1zM1017 312h1v1h-1zM720 313h1v1h-1zM1018 313h1v1h-1zM720 314h1v1h-1zM1019 314h1v1h-1zM720 315h1v1h-1zM1020 315h1v1h-1zM719 316h1v1h-1zM1021 316h1v1h-1zM719 317h1v1h-1zM1022 317h1v1h-1zM718 318h1v1h-1zM1023 318h1v1h-1zM718 319h1v1h-1zM1024 319h1v1h-1zM718 320h1v1h-1zM1025 320h1v1h-1zM717 321h1v1h-1zM1026 321h1v1h-1zM717 322h1v1h-1zM1027 322h1v1h-1zM717 323h1v1h-1zM1028 323h1v1h-1zM716 324h1v1h-1zM1029 324h1v1h-1zM716 325h1v1h-1zM1030 325h1v1h-1zM716 326h1v1h-1zM1031 326h1v1h-1zM715 327h1v1h-1zM1032 327h1v1h-1zM715 328h1v1h-1zM1033 328h1v1h-1zM714 329h1v1h-1zM1034 329h1v1h-1zM714 330h1v1h-1zM1035 330h1v1h-1zM714 331h1v1h-1zM1036 331h1v1h-1zM713 332h1v1h-1zM1037 332h1v1h-1zM713 333h1v1h-1zM1038 333h2v1h-2zM713 334h1v1h-1zM1040 334h1v1h-1zM712 335h1v1h-1zM1041 335h2v1h-2zM712 336h1v1h-1zM1043 336h2v1h-2zM712 337h1v1h-1zM1045 337h1v1h-1zM711 338h1v1h-1zM1046 338h2v1h-2zM711 339h1v1h-1zM1048 339h1v1h-1zM711 340h1v1h-1zM1049 340h2v1h-2zM710 341h1v1h-1zM1051 341h2v1h-2zM710 342h1v1h-1zM1053 342h2v1h-2zM710 343h1v1h-1zM1055 343h2v1h-2zM1109 343h11v1h-11zM709 344h1v1h-1zM1057 344h2v1h-2zM1107 344h2v1h-2zM1120 344h8v1h-8zM709 345h1v1h-1zM1059 345h2v1h-2zM1104 345h3v1h-3zM1128 345h3v1h-3zM709 346h1v1h-1zM1061 346h2v1h-2zM1101 346h3v1h-3zM1131 346h2v1h-2zM708 347h1v1h-1zM1063 347h2v1h-2zM1099 347h2v1h-2zM1133 347h2v1h-2zM708 348h1v1h-1zM1065 348h2v1h-2zM1096 348h3v1h-3zM1135 348h2v1h-2zM707 349h1v1h-1zM1067 349h2v1h-2zM1092 349h4v1h-4zM1137 349h2v1h-2zM707 350h1v1h-1zM1069 350h3v1h-3zM1089 350h3v1h-3zM1139 350h2v1h-2zM707 351h1v1h-1zM1072 351h4v1h-4zM1087 351h2v1h-2zM1141 351h2v1h-2zM706 352h1v1h-1zM1076 352h11v1h-11zM1143 352h2v1h-2zM706 353h1v1h-1zM1145 353h2v1h-2zM705 354h1v1h-1zM1147 354h2v1h-2zM705 355h1v1h-1zM1149 355h2v1h-2zM705 356h1v1h-1zM1151 356h2v1h-2zM704 357h1v1h-1zM1153 357h3v1h-3zM704 358h1v1h-1zM1156 358h3v1h-3zM704 359h1v1h-1zM1159 359h2v1h-2zM703 360h1v1h-1zM1161 360h2v1h-2zM703 361h1v1h-1zM1163 361h2v1h-2zM702 362h1v1h-1zM1165 362h1v1h-1zM702 363h1v1h-1zM1166 363h2v1h-2zM702 364h1v1h-1zM1168 364h1v1h-1zM701 365h1v1h-1zM1169 365h1v1h-1zM701 366h1v1h-1zM1170 366h2v1h-2zM701 367h1v1h-1zM1172 367h1v1h-1zM700 368h1v1h-1zM1173 368h2v1h-2zM700 369h1v1h-1zM1175 369h2v1h-2zM700 370h1v1h-1zM1177 370h1v1h-1zM699 371h1v1h-1zM1178 371h2v1h-2zM699 372h1v1h-1zM1180 372h1v1h-1zM698 373h1v1h-1zM1181 373h2v1h-2zM698 374h1v1h-1zM1183 374h2v1h-2zM698 375h1v1h-1zM1185 375h3v1h-3zM697 376h1v1h-1zM1188 376h3v1h-3zM697 377h1v1h-1zM1191 377h2v1h-2zM697 378h1v1h-1zM1193 378h3v1h-3zM696 379h1v1h-1zM1196 379h2v1h-2zM696 380h1v1h-1zM1198 380h2v1h-2zM695 381h1v1h-1zM1200 381h1v1h-1zM695 382h1v1h-1zM1201 382h1v1h-1zM694 383h1v1h-1zM1202 383h2v1h-2zM694 384h1v1h-1zM1204 384h1v1h-1zM693 385h1v1h-1zM1205 385h1v1h-1zM693 386h1v1h-1zM1206 386h2v1h-2zM692 387h1v1h-1zM1208 387h1v1h-1zM692 388h1v1h-1zM1209 388h1v1h-1zM691 389h1v1h-1zM1210 389h2v1h-2zM691 390h1v1h-1zM1212 390h1v1h-1zM690 391h1v1h-1zM1213 391h1v1h-1zM690 392h1v1h-1zM1214 392h1v1h-1zM689 393h1v1h-1zM1215 393h1v1h-1zM688 394h1v1h-1zM1216 394h1v1h-1zM688 395h1v1h-1zM1217 395h1v1h-1zM687 396h1v1h-1zM1218 396h2v1h-2zM686 397h1v1h-1zM1220 397h1v1h-1zM686 398h1v1h-1zM1221 398h1v1h-1zM685 399h1v1h-1zM1222 399h2v1h-2zM684 400h1v1h-1zM1224 400h1v1h-1zM683 401h1v1h-1zM1225 401h1v1h-1zM683 402h1v1h-1zM1226 402h1v1h-1zM682 403h1v1h-1zM1227 403h1v1h-1zM681 404h1v1h-1zM1228 404h1v1h-1zM680 405h1v1h-1zM1229 405h1v1h-1zM680 406h1v1h-1zM1230 406h2v1h-2zM679 407h1v1h-1zM1232 407h1v1h-1zM678 408h1v1h-1zM1233 408h1v1h-1zM678 409h1v1h-1zM1234 409h1v1h-1zM677 410h1v1h-1zM1235 410h1v1h-1zM676 411h1v1h-1zM1236 411h1v1h-1zM675 412h1v1h-1zM1237 412h1v1h-1zM674 413h1v1h-1zM1238 413h1v1h-1zM673 414h1v1h-1zM1239 414h1v1h-1zM672 415h1v1h-1zM1240 415h1v1h-1zM671 416h1v1h-1zM1241 416h2v1h-2zM671 417h1v1h-1zM1243 417h2v1h-2zM670 418h1v1h-1zM1245 418h2v1h-2zM669 419h1v1h-1zM1247 419h2v1h-2zM667 420h2v1h-2zM1249 420h1v1h-1zM665 421h2v1h-2zM1250 421h2v1h-2zM663 422h2v1h-2zM1252 422h1v1h-1zM661 423h2v1h-2zM1253 423h2v1h-2zM659 424h2v1h-2zM1255 424h2v1h-2zM656 425h3v1h-3zM1257 425h1v1h-1zM653 426h3v1h-3zM1258 426h2v1h-2zM651 427h2v1h-2zM1260 427h1v1h-1zM648 428h3v1h-3zM1261 428h1v1h-1zM32 429h4v1h-4zM645 429h3v1h-3zM1262 429h2v1h-2zM28 430h4v1h-4zM36 430h8v1h-8zM643 430h2v1h-2zM1264 430h1v1h-1zM24 431h4v1h-4zM44 431h4v1h-4zM641 431h2v1h-2zM1265 431h2v1h-2zM20 432h4v1h-4zM48 432h4v1h-4zM60 432h24v1h-24zM639 432h2v1h-2zM1267 432h2v1h-2zM17 433h3v1h-3zM52 433h8v1h-8zM84 433h12v1h-12zM164 433h16v1h-16zM637 433h2v1h-2zM1269 433h1v1h-1zM15 434h2v1h-2zM96 434h12v1h-12zM148 434h16v1h-16zM180 434h4v1h-4zM635 434h2v1h-2zM12 435h3v1h-3zM108 435h40v1h-40zM184 435h3v1h-3zM633 435h2v1h-2zM8 436h4v1h-4zM187 436h2v1h-2zM356 436h28v1h-28zM631 436h2v1h-2zM5 437h3v1h-3zM189 437h3v1h-3zM352 437h4v1h-4zM384 437h4v1h-4zM629 437h2v1h-2zM192 438h3v1h-3zM349 438h3v1h-3zM388 438h4v1h-4zM627 438h2v1h-2zM195 439h2v1h-2zM347 439h2v1h-2zM392 439h4v1h-4zM625 439h2v1h-2zM197 440h3v1h-3zM337 440h10v1h-10zM396 440h4v1h-4zM623 440h2v1h-2zM200 441h3v1h-3zM335 441h2v1h-2zM400 441h4v1h-4zM621 441h2v1h-2zM203 442h2v1h-2zM333 442h2v1h-2zM404 442h8v1h-8zM619 442h2v1h-2zM205 443h2v1h-2zM331 443h2v1h-2zM412 443h4v1h-4zM617 443h2v1h-2zM207 444h2v1h-2zM329 444h2v1h-2zM416 444h3v1h-3zM615 444h2v1h-2zM209 445h2v1h-2zM328 445h1v1h-1zM419 445h2v1h-2zM612 445h3v1h-3zM211 446h2v1h-2zM326 446h2v1h-2zM421 446h3v1h-3zM609 446h3v1h-3zM213 447h2v1h-2zM325 447h1v1h-1zM424 447h2v1h-2zM607 447h2v1h-2zM215 448h2v1h-2zM323 448h2v1h-2zM426 448h2v1h-2zM604 448h3v1h-3zM217 449h7v1h-7zM321 449h2v1h-2zM428 449h1v1h-1zM601 449h3v1h-3zM224 450h4v1h-4zM319 450h2v1h-2zM429 450h2v1h-2zM599 450h2v1h-2zM228 451h4v1h-4zM316 451h3v1h-3zM431 451h2v1h-2zM597 451h2v1h-2zM232 452h4v1h-4zM313 452h3v1h-3zM433 452h1v1h-1zM595 452h2v1h-2zM236 453h3v1h-3zM311 453h2v1h-2zM434 453h2v1h-2zM593 453h2v1h-2zM239 454h2v1h-2zM309 454h2v1h-2zM436 454h1v1h-1zM591 454h2v1h-2zM241 455h3v1h-3zM307 455h2v1h-2zM437 455h1v1h-1zM588 455h3v1h-3zM244 456h3v1h-3zM304 456h3v1h-3zM438 456h2v1h-2zM585 456h3v1h-3zM247 457h2v1h-2zM301 457h3v1h-3zM440 457h1v1h-1zM583 457h2v1h-2zM249 458h3v1h-3zM299 458h2v1h-2zM441 458h1v1h-1zM581 458h2v1h-2zM252 459h8v1h-8zM296 459h3v1h-3zM442 459h2v1h-2zM579 459h2v1h-2zM260 460h4v1h-4zM288 460h8v1h-8zM444 460h1v1h-1zM577 460h2v1h-2zM264 461h4v1h-4zM280 461h8v1h-8zM445 461h1v1h-1zM576 461h1v1h-1zM268 462h12v1h-12zM446 462h2v1h-2zM574 462h2v1h-2zM448 463h1v1h-1zM573 463h1v1h-1zM449 464h1v1h-1zM572 464h1v1h-1zM450 465h2v1h-2zM570 465h2v1h-2zM452 466h1v1h-1zM569 466h1v1h-1zM453 467h2v1h-2zM568 467h1v1h-1zM455 468h2v1h-2zM566 468h2v1h-2zM457 469h2v1h-2zM565 469h1v1h-1zM459 470h2v1h-2zM564 470h1v1h-1zM461 471h3v1h-3zM562 471h2v1h-2zM464 472h3v1h-3zM561 472h1v1h-1zM467 473h2v1h-2zM560 473h1v1h-1zM469 474h2v1h-2zM558 474h2v1h-2zM471 475h2v1h-2zM557 475h1v1h-1zM473 476h3v1h-3zM555 476h2v1h-2zM476 477h3v1h-3zM553 477h2v1h-2zM479 478h2v1h-2zM552 478h1v1h-1zM481 479h3v1h-3zM550 479h2v1h-2zM484 480h3v1h-3zM549 480h1v1h-1zM487 481h2v1h-2zM547 481h2v1h-2zM489 482h3v1h-3zM544 482h3v1h-3zM492 483h4v1h-4zM540 483h4v1h-4zM496 484h4v1h-4zM536 484h4v1h-4zM500 485h8v1h-8zM532 485h4v1h-4zM508 486h24v1h-24z" fill="#0000c8"/>
<path d="M701 543h1v1h-1zM700 544h1v1h-1zM702 544h1v1h-1zM684 545h2v1h-2zM698 545h2v1h-2zM703 545h1v1h-1zM673 546h1v1h-1zM681 546h3v1h-3zM686 546h1v1h-1zM697 546h1v1h-1zM704 546h1v1h-1zM672 547h1v1h-1zM674 547h1v1h-1zM680 547h1v1h-1zM687 547h1v1h-1zM696 547h1v1h-1zM705 547h1v1h-1zM672 548h1v1h-1zM675 548h1v1h-1zM679 548h1v1h-1zM687 548h1v1h-1zM694 548h2v1h-2zM706 548h1v1h-1zM671 549h1v1h-1zM676 549h1v1h-1zM678 549h1v1h-1zM688 549h1v1h-1zM692 549h2v1h-2zM706 549h1v1h-1zM671 550h1v1h-1zM677 550h1v1h-1zM689 550h3v1h-3zM707 550h1v1h-1zM670 551h1v1h-1zM708 551h1v1h-1zM716 551h2v1h-2zM560 552h7v1h-7zM670 552h1v1h-1zM708 552h1v1h-1zM712 552h4v1h-4zM718 552h1v1h-1zM556 553h4v1h-4zM567 553h2v1h-2zM572 553h2v1h-2zM669 553h1v1h-1zM709 553h3v1h-3zM719 553h1v1h-1zM552 554h4v1h-4zM569 554h3v1h-3zM573 554h1v1h-1zM637 554h1v1h-1zM669 554h1v1h-1zM720 554h1v1h-1zM549 555h3v1h-3zM574 555h1v1h-1zM636 555h1v1h-1zM638 555h1v1h-1zM668 555h1v1h-1zM721 555h1v1h-1zM547 556h2v1h-2zM574 556h1v1h-1zM635 556h1v1h-1zM639 556h1v1h-1zM668 556h1v1h-1zM721 556h1v1h-1zM545 557h2v1h-2zM575 557h1v1h-1zM635 557h1v1h-1zM640 557h1v1h-1zM667 557h1v1h-1zM722 557h1v1h-1zM543 558h2v1h-2zM575 558h1v1h-1zM634 558h1v1h-1zM641 558h1v1h-1zM667 558h1v1h-1zM722 558h1v1h-1zM537 559h6v1h-6zM576 559h1v1h-1zM633 559h1v1h-1zM642 559h1v1h-1zM666 559h1v1h-1zM723 559h1v1h-1zM535 560h2v1h-2zM576 560h1v1h-1zM632 560h1v1h-1zM643 560h1v1h-1zM666 560h1v1h-1zM723 560h1v1h-1zM533 561h2v1h-2zM577 561h1v1h-1zM631 561h1v1h-1zM643 561h1v1h-1zM665 561h1v1h-1zM724 561h1v1h-1zM532 562h1v1h-1zM577 562h1v1h-1zM631 562h1v1h-1zM644 562h1v1h-1zM660 562h6v1h-6zM724 562h1v1h-1zM309 563h1v1h-1zM530 563h2v1h-2zM578 563h1v1h-1zM630 563h1v1h-1zM645 563h1v1h-1zM656 563h4v1h-4zM725 563h1v1h-1zM293 564h1v1h-1zM308 564h1v1h-1zM310 564h1v1h-1zM525 564h5v1h-5zM578 564h1v1h-1zM629 564h1v1h-1zM646 564h1v1h-1zM653 564h3v1h-3zM725 564h1v1h-1zM292 565h1v1h-1zM294 565h2v1h-2zM306 565h2v1h-2zM311 565h1v1h-1zM524 565h1v1h-1zM579 565h1v1h-1zM628 565h1v1h-1zM646 565h1v1h-1zM652 565h1v1h-1zM726 565h1v1h-1zM292 566h1v1h-1zM296 566h1v1h-1zM300 566h6v1h-6zM311 566h1v1h-1zM333 566h2v1h-2zM523 566h1v1h-1zM579 566h1v1h-1zM626 566h2v1h-2zM647 566h1v1h-1zM651 566h1v1h-1zM726 566h1v1h-1zM268 567h6v1h-6zM291 567h1v1h-1zM297 567h3v1h-3zM312 567h1v1h-1zM332 567h1v1h-1zM335 567h2v1h-2zM522 567h1v1h-1zM580 567h1v1h-1zM625 567h1v1h-1zM648 567h1v1h-1zM651 567h1v1h-1zM726 567h1v1h-1zM129 568h7v1h-7zM257 568h2v1h-2zM265 568h3v1h-3zM274 568h1v1h-1zM291 568h1v1h-1zM313 568h7v1h-7zM331 568h1v1h-1zM337 568h1v1h-1zM513 568h9v1h-9zM580 568h1v1h-1zM624 568h1v1h-1zM648 568h1v1h-1zM650 568h1v1h-1zM727 568h1v1h-1zM128 569h1v1h-1zM136 569h2v1h-2zM145 569h2v1h-2zM255 569h2v1h-2zM259 569h2v1h-2zM263 569h2v1h-2zM274 569h1v1h-1zM290 569h1v1h-1zM320 569h4v1h-4zM330 569h1v1h-1zM337 569h1v1h-1zM511 569h2v1h-2zM581 569h3v1h-3zM588 569h3v1h-3zM622 569h2v1h-2zM649 569h1v1h-1zM727 569h1v1h-1zM126 570h2v1h-2zM138 570h1v1h-1zM144 570h1v1h-1zM147 570h2v1h-2zM253 570h2v1h-2zM261 570h2v1h-2zM275 570h1v1h-1zM290 570h1v1h-1zM324 570h6v1h-6zM338 570h1v1h-1zM509 570h2v1h-2zM584 570h4v1h-4zM591 570h2v1h-2zM621 570h1v1h-1zM727 570h1v1h-1zM17 571h9v1h-9zM125 571h1v1h-1zM139 571h1v1h-1zM143 571h1v1h-1zM149 571h1v1h-1zM252 571h1v1h-1zM276 571h1v1h-1zM281 571h1v1h-1zM289 571h1v1h-1zM338 571h1v1h-1zM509 571h1v1h-1zM593 571h1v1h-1zM601 571h1v1h-1zM621 571h1v1h-1zM728 571h1v1h-1zM749 571h1v1h-1zM817 571h1v1h-1zM16 572h1v1h-1zM25 572h1v1h-1zM125 572h1v1h-1zM140 572h1v1h-1zM142 572h1v1h-1zM149 572h1v1h-1zM252 572h1v1h-1zM276 572h1v1h-1zM279 572h2v1h-2zM282 572h2v1h-2zM289 572h1v1h-1zM338 572h1v1h-1zM508 572h1v1h-1zM594 572h2v1h-2zM600 572h1v1h-1zM602 572h1v1h-1zM620 572h1v1h-1zM728 572h1v1h-1zM741 572h2v1h-2zM748 572h1v1h-1zM750 572h2v1h-2zM816 572h1v1h-1zM818 572h2v1h-2zM5 573h7v1h-7zM14 573h2v1h-2zM26 573h1v1h-1zM124 573h1v1h-1zM141 573h1v1h-1zM150 573h1v1h-1zM251 573h1v1h-1zM277 573h2v1h-2zM284 573h1v1h-1zM287 573h2v1h-2zM338 573h1v1h-1zM508 573h1v1h-1zM596 573h1v1h-1zM598 573h2v1h-2zM603 573h1v1h-1zM620 573h1v1h-1zM728 573h1v1h-1zM740 573h1v1h-1zM743 573h2v1h-2zM746 573h2v1h-2zM752 573h1v1h-1zM760 573h3v1h-3zM800 573h2v1h-2zM815 573h1v1h-1zM820 573h1v1h-1zM12 574h2v1h-2zM26 574h1v1h-1zM64 574h2v1h-2zM77 574h1v1h-1zM124 574h1v1h-1zM150 574h1v1h-1zM250 574h1v1h-1zM285 574h2v1h-2zM339 574h1v1h-1zM507 574h1v1h-1zM597 574h1v1h-1zM604 574h1v1h-1zM620 574h1v1h-1zM729 574h1v1h-1zM732 574h2v1h-2zM740 574h1v1h-1zM745 574h1v1h-1zM753 574h7v1h-7zM763 574h2v1h-2zM797 574h3v1h-3zM802 574h1v1h-1zM815 574h1v1h-1zM821 574h1v1h-1zM869 574h1v1h-1zM1045 574h2v1h-2zM27 575h1v1h-1zM61 575h3v1h-3zM66 575h1v1h-1zM76 575h1v1h-1zM78 575h2v1h-2zM88 575h6v1h-6zM101 575h3v1h-3zM124 575h1v1h-1zM151 575h1v1h-1zM245 575h3v1h-3zM250 575h1v1h-1zM339 575h1v1h-1zM507 575h1v1h-1zM605 575h3v1h-3zM619 575h1v1h-1zM729 575h3v1h-3zM734 575h1v1h-1zM739 575h1v1h-1zM765 575h1v1h-1zM797 575h1v1h-1zM803 575h1v1h-1zM814 575h1v1h-1zM822 575h1v1h-1zM868 575h2v1h-2zM893 575h3v1h-3zM900 575h6v1h-6zM1044 575h1v1h-1zM1047 575h2v1h-2zM1052 575h2v1h-2zM27 576h1v1h-1zM60 576h1v1h-1zM67 576h1v1h-1zM75 576h1v1h-1zM80 576h1v1h-1zM84 576h4v1h-4zM94 576h2v1h-2zM100 576h1v1h-1zM104 576h2v1h-2zM123 576h1v1h-1zM151 576h1v1h-1zM221 576h1v1h-1zM244 576h1v1h-1zM248 576h2v1h-2zM339 576h1v1h-1zM349 576h3v1h-3zM506 576h1v1h-1zM608 576h3v1h-3zM619 576h1v1h-1zM735 576h1v1h-1zM739 576h1v1h-1zM766 576h1v1h-1zM796 576h1v1h-1zM803 576h1v1h-1zM813 576h1v1h-1zM823 576h1v1h-1zM829 576h6v1h-6zM853 576h3v1h-3zM860 576h2v1h-2zM867 576h1v1h-1zM870 576h1v1h-1zM892 576h1v1h-1zM896 576h4v1h-4zM906 576h1v1h-1zM1043 576h1v1h-1zM1049 576h3v1h-3zM1054 576h1v1h-1zM27 577h1v1h-1zM60 577h1v1h-1zM68 577h1v1h-1zM74 577h1v1h-1zM81 577h3v1h-3zM96 577h1v1h-1zM98 577h2v1h-2zM106 577h2v1h-2zM123 577h1v1h-1zM152 577h1v1h-1zM221 577h2v1h-2zM242 577h2v1h-2zM340 577h1v1h-1zM349 577h1v1h-1zM352 577h2v1h-2zM465 577h1v1h-1zM506 577h1v1h-1zM611 577h2v1h-2zM619 577h1v1h-1zM735 577h1v1h-1zM738 577h1v1h-1zM767 577h1v1h-1zM796 577h1v1h-1zM804 577h1v1h-1zM811 577h2v1h-2zM823 577h1v1h-1zM828 577h1v1h-1zM835 577h2v1h-2zM852 577h1v1h-1zM856 577h4v1h-4zM862 577h2v1h-2zM867 577h1v1h-1zM870 577h1v1h-1zM891 577h1v1h-1zM906 577h1v1h-1zM1042 577h1v1h-1zM1055 577h1v1h-1zM28 578h1v1h-1zM59 578h1v1h-1zM69 578h5v1h-5zM97 578h1v1h-1zM108 578h1v1h-1zM122 578h1v1h-1zM152 578h1v1h-1zM220 578h1v1h-1zM223 578h1v1h-1zM241 578h1v1h-1zM340 578h1v1h-1zM348 578h1v1h-1zM354 578h1v1h-1zM465 578h2v1h-2zM505 578h1v1h-1zM613 578h1v1h-1zM618 578h1v1h-1zM736 578h1v1h-1zM738 578h1v1h-1zM767 578h1v1h-1zM795 578h1v1h-1zM805 578h6v1h-6zM824 578h1v1h-1zM826 578h2v1h-2zM837 578h1v1h-1zM852 578h1v1h-1zM864 578h1v1h-1zM866 578h1v1h-1zM871 578h1v1h-1zM885 578h3v1h-3zM890 578h1v1h-1zM907 578h1v1h-1zM925 578h3v1h-3zM1041 578h1v1h-1zM1055 578h1v1h-1zM1105 578h1v1h-1zM28 579h1v1h-1zM59 579h1v1h-1zM109 579h3v1h-3zM122 579h1v1h-1zM153 579h1v1h-1zM220 579h1v1h-1zM223 579h1v1h-1zM240 579h1v1h-1zM340 579h1v1h-1zM348 579h1v1h-1zM355 579h1v1h-1zM464 579h1v1h-1zM466 579h1v1h-1zM505 579h1v1h-1zM614 579h1v1h-1zM618 579h1v1h-1zM737 579h1v1h-1zM768 579h1v1h-1zM772 579h4v1h-4zM795 579h1v1h-1zM825 579h1v1h-1zM838 579h2v1h-2zM851 579h1v1h-1zM865 579h1v1h-1zM871 579h1v1h-1zM884 579h1v1h-1zM888 579h2v1h-2zM907 579h1v1h-1zM924 579h1v1h-1zM928 579h3v1h-3zM1040 579h1v1h-1zM1056 579h1v1h-1zM1104 579h1v1h-1zM1106 579h1v1h-1zM29 580h1v1h-1zM58 580h1v1h-1zM112 580h7v1h-7zM122 580h1v1h-1zM153 580h1v1h-1zM220 580h1v1h-1zM224 580h1v1h-1zM239 580h1v1h-1zM340 580h1v1h-1zM348 580h1v1h-1zM356 580h1v1h-1zM360 580h2v1h-2zM464 580h1v1h-1zM467 580h1v1h-1zM496 580h4v1h-4zM503 580h2v1h-2zM615 580h1v1h-1zM618 580h1v1h-1zM769 580h3v1h-3zM776 580h4v1h-4zM794 580h1v1h-1zM840 580h1v1h-1zM851 580h1v1h-1zM872 580h1v1h-1zM883 580h1v1h-1zM908 580h1v1h-1zM923 580h1v1h-1zM931 580h2v1h-2zM1038 580h2v1h-2zM1057 580h1v1h-1zM1092 580h7v1h-7zM1103 580h1v1h-1zM1106 580h1v1h-1zM1117 580h5v1h-5zM29 581h1v1h-1zM58 581h1v1h-1zM119 581h3v1h-3zM153 581h1v1h-1zM220 581h1v1h-1zM225 581h11v1h-11zM238 581h1v1h-1zM341 581h1v1h-1zM347 581h1v1h-1zM357 581h3v1h-3zM362 581h2v1h-2zM463 581h1v1h-1zM468 581h1v1h-1zM481 581h3v1h-3zM493 581h3v1h-3zM500 581h3v1h-3zM616 581h2v1h-2zM780 581h11v1h-11zM794 581h1v1h-1zM841 581h2v1h-2zM850 581h1v1h-1zM872 581h1v1h-1zM883 581h1v1h-1zM908 581h1v1h-1zM922 581h1v1h-1zM933 581h1v1h-1zM1037 581h1v1h-1zM1058 581h2v1h-2zM1081 581h1v1h-1zM1089 581h3v1h-3zM1099 581h2v1h-2zM1102 581h1v1h-1zM1107 581h1v1h-1zM1116 581h1v1h-1zM1122 581h2v1h-2zM30 582h2v1h-2zM57 582h1v1h-1zM121 582h1v1h-1zM154 582h1v1h-1zM219 582h1v1h-1zM236 582h2v1h-2zM341 582h1v1h-1zM347 582h1v1h-1zM364 582h1v1h-1zM463 582h1v1h-1zM468 582h1v1h-1zM472 582h4v1h-4zM479 582h2v1h-2zM484 582h4v1h-4zM491 582h2v1h-2zM617 582h1v1h-1zM791 582h3v1h-3zM843 582h2v1h-2zM850 582h1v1h-1zM873 582h2v1h-2zM882 582h1v1h-1zM909 582h1v1h-1zM921 582h1v1h-1zM934 582h1v1h-1zM1001 582h5v1h-5zM1020 582h6v1h-6zM1036 582h1v1h-1zM1060 582h1v1h-1zM1064 582h3v1h-3zM1080 582h1v1h-1zM1082 582h1v1h-1zM1088 582h1v1h-1zM1101 582h1v1h-1zM1108 582h1v1h-1zM1115 582h1v1h-1zM1124 582h1v1h-1zM1189 582h3v1h-3zM32 583h1v1h-1zM55 583h2v1h-2zM154 583h1v1h-1zM165 583h1v1h-1zM219 583h1v1h-1zM342 583h1v1h-1zM346 583h1v1h-1zM365 583h1v1h-1zM400 583h6v1h-6zM462 583h1v1h-1zM469 583h3v1h-3zM476 583h3v1h-3zM488 583h3v1h-3zM793 583h1v1h-1zM845 583h3v1h-3zM849 583h1v1h-1zM875 583h2v1h-2zM880 583h2v1h-2zM910 583h1v1h-1zM919 583h2v1h-2zM934 583h1v1h-1zM999 583h2v1h-2zM1006 583h2v1h-2zM1017 583h3v1h-3zM1026 583h1v1h-1zM1036 583h1v1h-1zM1061 583h3v1h-3zM1067 583h2v1h-2zM1079 583h1v1h-1zM1083 583h1v1h-1zM1087 583h1v1h-1zM1108 583h1v1h-1zM1114 583h1v1h-1zM1125 583h1v1h-1zM1189 583h1v1h-1zM1192 583h3v1h-3zM33 584h1v1h-1zM53 584h2v1h-2zM155 584h1v1h-1zM164 584h1v1h-1zM166 584h2v1h-2zM219 584h1v1h-1zM343 584h1v1h-1zM346 584h1v1h-1zM366 584h2v1h-2zM373 584h2v1h-2zM397 584h3v1h-3zM406 584h2v1h-2zM413 584h1v1h-1zM462 584h1v1h-1zM848 584h2v1h-2zM877 584h3v1h-3zM911 584h1v1h-1zM917 584h2v1h-2zM935 584h1v1h-1zM997 584h2v1h-2zM1008 584h1v1h-1zM1015 584h2v1h-2zM1027 584h1v1h-1zM1035 584h1v1h-1zM1069 584h7v1h-7zM1078 584h1v1h-1zM1084 584h1v1h-1zM1086 584h1v1h-1zM1109 584h5v1h-5zM1126 584h1v1h-1zM1161 584h1v1h-1zM1188 584h1v1h-1zM1195 584h2v1h-2zM34 585h1v1h-1zM52 585h1v1h-1zM155 585h1v1h-1zM164 585h1v1h-1zM168 585h1v1h-1zM219 585h1v1h-1zM343 585h1v1h-1zM346 585h1v1h-1zM368 585h1v1h-1zM371 585h2v1h-2zM375 585h2v1h-2zM396 585h1v1h-1zM408 585h1v1h-1zM411 585h2v1h-2zM414 585h1v1h-1zM461 585h1v1h-1zM912 585h1v1h-1zM915 585h2v1h-2zM935 585h1v1h-1zM995 585h2v1h-2zM1009 585h6v1h-6zM1028 585h1v1h-1zM1034 585h1v1h-1zM1076 585h2v1h-2zM1085 585h1v1h-1zM1126 585h1v1h-1zM1160 585h1v1h-1zM1162 585h2v1h-2zM1173 585h1v1h-1zM1188 585h1v1h-1zM1197 585h1v1h-1zM34 586h1v1h-1zM52 586h1v1h-1zM156 586h1v1h-1zM163 586h1v1h-1zM169 586h3v1h-3zM218 586h1v1h-1zM344 586h2v1h-2zM369 586h2v1h-2zM377 586h1v1h-1zM396 586h1v1h-1zM409 586h2v1h-2zM414 586h1v1h-1zM461 586h1v1h-1zM913 586h2v1h-2zM936 586h1v1h-1zM993 586h2v1h-2zM1029 586h3v1h-3zM1034 586h1v1h-1zM1127 586h1v1h-1zM1160 586h1v1h-1zM1164 586h1v1h-1zM1172 586h1v1h-1zM1174 586h1v1h-1zM1187 586h1v1h-1zM1198 586h2v1h-2zM35 587h1v1h-1zM51 587h1v1h-1zM156 587h1v1h-1zM163 587h1v1h-1zM172 587h2v1h-2zM218 587h1v1h-1zM345 587h1v1h-1zM378 587h2v1h-2zM395 587h1v1h-1zM415 587h1v1h-1zM460 587h1v1h-1zM936 587h1v1h-1zM949 587h2v1h-2zM993 587h1v1h-1zM1032 587h2v1h-2zM1127 587h1v1h-1zM1159 587h1v1h-1zM1165 587h3v1h-3zM1170 587h2v1h-2zM1175 587h1v1h-1zM1187 587h1v1h-1zM1200 587h1v1h-1zM1245 587h1v1h-1zM36 588h1v1h-1zM51 588h1v1h-1zM157 588h1v1h-1zM162 588h1v1h-1zM174 588h1v1h-1zM218 588h1v1h-1zM380 588h1v1h-1zM395 588h1v1h-1zM416 588h1v1h-1zM459 588h1v1h-1zM937 588h3v1h-3zM947 588h2v1h-2zM951 588h2v1h-2zM992 588h1v1h-1zM1128 588h1v1h-1zM1159 588h1v1h-1zM1168 588h2v1h-2zM1176 588h1v1h-1zM1186 588h1v1h-1zM1201 588h1v1h-1zM1244 588h1v1h-1zM1246 588h2v1h-2zM36 589h1v1h-1zM40 589h2v1h-2zM50 589h1v1h-1zM157 589h3v1h-3zM162 589h1v1h-1zM175 589h1v1h-1zM218 589h1v1h-1zM381 589h5v1h-5zM394 589h1v1h-1zM416 589h1v1h-1zM459 589h1v1h-1zM940 589h7v1h-7zM953 589h1v1h-1zM992 589h1v1h-1zM1128 589h1v1h-1zM1141 589h6v1h-6zM1158 589h1v1h-1zM1177 589h1v1h-1zM1186 589h1v1h-1zM1202 589h2v1h-2zM1213 589h6v1h-6zM1243 589h1v1h-1zM1248 589h1v1h-1zM37 590h3v1h-3zM42 590h2v1h-2zM50 590h1v1h-1zM160 590h2v1h-2zM176 590h1v1h-1zM217 590h1v1h-1zM386 590h1v1h-1zM394 590h1v1h-1zM417 590h2v1h-2zM458 590h1v1h-1zM954 590h1v1h-1zM992 590h1v1h-1zM1129 590h1v1h-1zM1140 590h1v1h-1zM1147 590h2v1h-2zM1158 590h1v1h-1zM1178 590h1v1h-1zM1185 590h1v1h-1zM1204 590h1v1h-1zM1212 590h1v1h-1zM1219 590h2v1h-2zM1237 590h3v1h-3zM1242 590h1v1h-1zM1249 590h2v1h-2zM44 591h1v1h-1zM48 591h2v1h-2zM177 591h3v1h-3zM217 591h1v1h-1zM387 591h1v1h-1zM393 591h1v1h-1zM419 591h2v1h-2zM457 591h1v1h-1zM954 591h1v1h-1zM991 591h1v1h-1zM1130 591h2v1h-2zM1139 591h1v1h-1zM1149 591h3v1h-3zM1156 591h2v1h-2zM1178 591h1v1h-1zM1185 591h1v1h-1zM1205 591h2v1h-2zM1211 591h1v1h-1zM1221 591h2v1h-2zM1236 591h1v1h-1zM1240 591h2v1h-2zM1251 591h2v1h-2zM45 592h3v1h-3zM180 592h4v1h-4zM217 592h1v1h-1zM387 592h1v1h-1zM392 592h1v1h-1zM421 592h1v1h-1zM456 592h1v1h-1zM955 592h1v1h-1zM991 592h1v1h-1zM1132 592h1v1h-1zM1139 592h1v1h-1zM1152 592h4v1h-4zM1179 592h1v1h-1zM1184 592h1v1h-1zM1207 592h2v1h-2zM1210 592h1v1h-1zM1223 592h2v1h-2zM1234 592h2v1h-2zM1253 592h1v1h-1zM184 593h3v1h-3zM216 593h1v1h-1zM388 593h1v1h-1zM390 593h2v1h-2zM422 593h2v1h-2zM456 593h1v1h-1zM956 593h1v1h-1zM990 593h1v1h-1zM1133 593h3v1h-3zM1138 593h1v1h-1zM1179 593h1v1h-1zM1183 593h1v1h-1zM1209 593h1v1h-1zM1225 593h3v1h-3zM1232 593h2v1h-2zM1254 593h2v1h-2zM187 594h2v1h-2zM215 594h1v1h-1zM389 594h1v1h-1zM424 594h1v1h-1zM455 594h1v1h-1zM956 594h1v1h-1zM990 594h1v1h-1zM1136 594h2v1h-2zM1180 594h1v1h-1zM1183 594h1v1h-1zM1228 594h4v1h-4zM1256 594h1v1h-1zM189 595h2v1h-2zM215 595h1v1h-1zM425 595h2v1h-2zM455 595h1v1h-1zM957 595h1v1h-1zM990 595h1v1h-1zM1180 595h1v1h-1zM1182 595h1v1h-1zM1257 595h3v1h-3zM191 596h2v1h-2zM196 596h4v1h-4zM214 596h1v1h-1zM427 596h2v1h-2zM454 596h1v1h-1zM958 596h2v1h-2zM985 596h3v1h-3zM989 596h1v1h-1zM1181 596h1v1h-1zM1260 596h4v1h-4zM1268 596h2v1h-2zM193 597h3v1h-3zM200 597h4v1h-4zM212 597h2v1h-2zM429 597h1v1h-1zM454 597h1v1h-1zM960 597h1v1h-1zM968 597h2v1h-2zM984 597h1v1h-1zM988 597h2v1h-2zM1264 597h4v1h-4zM204 598h8v1h-8zM430 598h1v1h-1zM453 598h1v1h-1zM961 598h7v1h-7zM970 598h2v1h-2zM983 598h1v1h-1zM430 599h1v1h-1zM448 599h6v1h-6zM972 599h1v1h-1zM976 599h4v1h-4zM982 599h1v1h-1zM431 600h1v1h-1zM437 600h3v1h-3zM444 600h4v1h-4zM973 600h3v1h-3zM980 600h2v1h-2zM432 601h1v1h-1zM436 601h1v1h-1zM440 601h4v1h-4zM432 602h1v1h-1zM434 602h2v1h-2zM433 603h1v1h-1z" fill="#1e90ff"/>
<path d="M5 682h1v5h-1zM9 682h1v5h-1zM13 682h1v5h-1zM17 682h1v5h-1zM21 682h1v5h-1zM25 683h1v4h-1zM29 683h1v4h-1zM33 684h1v3h-1zM37 685h1v2h-1zM41 686h1v1h-1zM45 686h1v2h-1zM49 686h1v3h-1zM53 686h1v3h-1zM57 686h1v3h-1zM61 686h1v3h-1zM65 686h1v3h-1zM69 686h1v3h-1zM73 686h1v2h-1zM77 686h1v1h-1zM81 686h1v1h-1zM85 686h1v1h-1zM89 686h1v1h-1zM93 686h1v1h-1zM97 686h1v1h-1zM101 686h1v1h-1zM105 686h1v1h-1zM109 685h1v2h-1zM113 684h1v3h-1zM117 684h1v3h-1zM121 684h1v3h-1zM125 684h1v3h-1zM129 684h1v3h-1zM133 684h1v3h-1zM137 684h1v3h-1zM141 684h1v3h-1zM145 684h1v3h-1zM149 684h1v3h-1zM153 684h1v3h-1zM157 685h1v2h-1zM161 686h1v1h-1zM165 686h1v1h-1zM169 686h1v2h-1zM173 686h1v2h-1zM177 686h1v3h-1zM181 686h1v4h-1zM185 686h1v5h-1zM189 686h1v6h-1zM193 686h1v7h-1zM197 686h1v7h-1zM201 686h1v8h-1zM205 686h1v9h-1zM209 686h1v9h-1zM213 686h1v9h-1zM217 686h1v9h-1zM221 686h1v9h-1zM225 686h1v8h-1zM229 686h1v7h-1zM233 686h1v6h-1zM237 686h1v5h-1zM241 686h1v4h-1zM245 686h1v3h-1zM249 686h1v2h-1zM253 686h1v1h-1zM257 686h1v1h-1zM261 685h1v2h-1zM265 684h1v3h-1zM269 684h1v3h-1zM273 684h1v3h-1zM277 684h1v3h-1zM281 684h1v3h-1zM285 684h1v3h-1zM289 684h1v3h-1zM293 684h1v3h-1zM297 683h1v4h-1zM301 682h1v5h-1zM305 682h1v5h-1zM309 682h1v5h-1zM313 681h1v6h-1zM317 681h1v6h-1zM321 681h1v6h-1zM325 681h1v6h-1zM329 681h1v6h-1zM333 681h1v6h-1zM337 682h1v5h-1zM341 683h1v4h-1zM345 683h1v4h-1zM349 684h1v3h-1zM353 684h1v3h-1zM357 685h1v2h-1zM361 685h1v2h-1zM365 686h1v1h-1zM369 686h1v1h-1zM373 686h1v1h-1zM377 686h1v1h-1zM381 686h1v1h-1zM385 686h1v3h-1zM389 686h1v4h-1zM393 686h1v5h-1zM397 686h1v5h-1zM401 686h1v5h-1zM405 686h1v5h-1zM409 686h1v5h-1zM413 686h1v5h-1zM417 686h1v5h-1zM421 686h1v5h-1zM425 686h1v5h-1zM429 686h1v6h-1zM433 686h1v7h-1zM437 686h1v9h-1zM441 686h1v10h-1zM445 686h1v11h-1zM449 686h1v11h-1zM453 686h1v12h-1zM457 686h1v11h-1zM461 686h1v10h-1zM465 686h1v9h-1zM469 686h1v8h-1zM473 686h1v7h-1zM477 686h1v6h-1zM481 686h1v6h-1zM485 686h1v6h-1zM489 686h1v5h-1zM493 686h1v5h-1zM497 686h1v5h-1zM501 686h1v4h-1zM505 686h1v3h-1zM509 686h1v2h-1zM513 686h1v1h-1zM517 686h1v1h-1zM521 685h1v2h-1zM525 684h1v3h-1zM529 683h1v4h-1zM533 682h1v5h-1zM537 681h1v6h-1zM541 681h1v6h-1zM545 680h1v7h-1zM549 679h1v8h-1zM553 678h1v9h-1zM557 678h1v9h-1zM561 677h1v10h-1zM565 677h1v10h-1zM569 676h1v11h-1zM573 676h1v11h-1zM577 676h1v11h-1zM581 677h1v10h-1zM585 678h1v9h-1zM589 679h1v8h-1zM593 679h1v8h-1zM597 680h1v7h-1zM601 681h1v6h-1zM605 682h1v5h-1zM609 683h1v4h-1zM613 683h1v4h-1zM617 684h1v3h-1zM621 683h1v4h-1zM625 683h1v4h-1zM629 682h1v5h-1zM633 682h1v5h-1zM637 680h1v7h-1zM641 679h1v8h-1zM645 679h1v8h-1zM649 679h1v8h-1zM653 678h1v9h-1zM657 678h1v9h-1zM661 678h1v9h-1zM665 678h1v9h-1zM669 676h1v11h-1zM673 671h1v16h-1zM677 668h1v19h-1zM681 664h1v23h-1zM685 660h1v27h-1zM689 658h1v29h-1zM693 655h1v32h-1zM697 651h1v36h-1zM701 643h1v44h-1zM705 639h1v48h-1zM709 637h1v50h-1zM713 635h1v52h-1zM717 633h1v54h-1zM721 633h1v54h-1zM725 635h1v52h-1zM729 641h1v46h-1zM733 647h1v40h-1zM737 653h1v34h-1zM741 655h1v32h-1zM745 658h1v29h-1zM749 659h1v28h-1zM753 662h1v25h-1zM757 664h1v23h-1zM761 665h1v22h-1zM765 667h1v20h-1zM769 671h1v16h-1zM773 674h1v13h-1zM777 676h1v11h-1zM781 679h1v8h-1zM785 681h1v6h-1zM789 683h1v4h-1zM793 685h1v2h-1zM797 684h1v3h-1zM801 682h1v5h-1zM805 683h1v4h-1zM809 683h1v4h-1zM813 683h1v4h-1zM817 682h1v5h-1zM821 682h1v5h-1zM825 681h1v6h-1zM829 681h1v6h-1zM833 682h1v5h-1zM837 683h1v4h-1zM841 684h1v3h-1zM845 686h1v1h-1zM849 686h1v1h-1zM853 686h1v1h-1zM857 686h1v1h-1zM861 686h1v1h-1zM865 686h1v1h-1zM869 686h1v1h-1zM873 686h1v1h-1zM877 686h1v1h-1zM881 686h1v1h-1zM885 686h1v1h-1zM889 686h1v1h-1zM893 686h1v1h-1zM897 686h1v1h-1zM901 686h1v1h-1zM905 686h1v1h-1zM909 686h1v1h-1zM913 686h1v1h-1zM917 686h1v4h-1zM921 686h1v4h-1zM925 686h1v3h-1zM929 686h1v3h-1zM933 686h1v3h-1zM937 686h1v5h-1zM941 686h1v8h-1zM945 686h1v10h-1zM949 686h1v9h-1zM953 686h1v11h-1zM957 686h1v14h-1zM961 686h1v18h-1zM965 686h1v21h-1zM969 686h1v22h-1zM973 686h1v24h-1zM977 686h1v25h-1zM981 686h1v28h-1zM985 686h1v28h-1zM989 686h1v28h-1zM993 686h1v24h-1zM997 686h1v23h-1zM1001 686h1v20h-1zM1005 686h1v19h-1zM1009 686h1v17h-1zM1013 686h1v15h-1zM1017 686h1v14h-1zM1021 686h1v13h-1zM1025 686h1v12h-1zM1029 686h1v11h-1zM1033 686h1v10h-1zM1037 686h1v9h-1zM1041 686h1v8h-1zM1045 686h1v6h-1zM1049 686h1v4h-1zM1053 686h1v3h-1zM1057 686h1v3h-1zM1061 686h1v4h-1zM1065 686h1v4h-1zM1069 686h1v4h-1zM1073 686h1v4h-1zM1077 686h1v4h-1zM1081 686h1v4h-1zM1085 686h1v4h-1zM1089 686h1v4h-1zM1093 686h1v4h-1zM1097 686h1v4h-1zM1101 686h1v4h-1zM1105 686h1v4h-1zM1109 686h1v4h-1zM1113 686h1v4h-1zM1117 686h1v4h-1zM1121 686h1v4h-1zM1125 686h1v4h-1zM1129 686h1v4h-1zM1133 686h1v7h-1zM1137 686h1v9h-1zM1141 686h1v8h-1zM1145 686h1v9h-1zM1149 686h1v10h-1zM1153 686h1v11h-1zM1157 686h1v10h-1zM1161 686h1v9h-1zM1165 686h1v10h-1zM1169 686h1v10h-1zM1173 686h1v9h-1zM1177 686h1v10h-1zM1181 686h1v11h-1zM1185 686h1v11h-1zM1189 686h1v10h-1zM1193 686h1v9h-1zM1197 686h1v9h-1zM1201 686h1v10h-1zM1205 686h1v11h-1zM1209 686h1v12h-1zM1213 686h1v11h-1zM1217 686h1v11h-1zM1221 686h1v13h-1zM1225 686h1v13h-1zM1229 686h1v13h-1zM1233 686h1v14h-1zM1237 686h1v13h-1zM1241 686h1v13h-1zM1245 686h1v13h-1zM1249 686h1v14h-1zM1253 686h1v14h-1zM1257 686h1v14h-1zM1261 686h1v14h-1zM1265 686h1v14h-1zM1269 686h1v14h-1z" fill="#c0c0c0"/>
<path d="M731 637h3v1h-3zM737 638h3v1h-3zM726 639h2v1h-2zM725 640h1v1h-1zM743 640h1v1h-1zM744 641h1v1h-1zM721 642h1v1h-1zM745 642h1v1h-1zM720 643h1v1h-1zM719 644h1v1h-1zM749 645h1v1h-1zM750 646h2v1h-2zM714 647h2v1h-2zM713 648h1v1h-1zM755 650h1v1h-1zM756 651h1v1h-1zM709 652h1v1h-1zM757 652h1v1h-1zM708 653h1v1h-1zM707 654h1v1h-1zM761 655h1v1h-1zM762 656h2v1h-2zM703 658h1v1h-1zM702 659h1v1h-1zM767 659h2v1h-2zM701 660h1v1h-1zM769 660h1v1h-1zM773 663h2v1h-2zM697 664h1v1h-1zM775 664h1v1h-1zM696 665h1v1h-1zM695 666h1v1h-1zM779 666h1v1h-1zM780 667h1v1h-1zM691 668h1v1h-1zM781 668h1v1h-1zM689 669h2v1h-2zM785 670h2v1h-2zM684 671h2v1h-2zM787 671h1v1h-1zM683 672h1v1h-1zM679 673h1v1h-1zM791 673h1v1h-1zM677 674h2v1h-2zM792 674h1v1h-1zM793 675h1v1h-1zM581 676h3v1h-3zM587 676h3v1h-3zM672 676h2v1h-2zM569 677h3v1h-3zM575 677h3v1h-3zM593 677h3v1h-3zM599 677h1v1h-1zM671 677h1v1h-1zM797 677h3v1h-3zM564 678h2v1h-2zM600 678h2v1h-2zM605 678h3v1h-3zM660 678h2v1h-2zM665 678h3v1h-3zM803 678h1v1h-1zM5 679h3v1h-3zM11 679h3v1h-3zM17 679h3v1h-3zM563 679h1v1h-1zM611 679h3v1h-3zM653 679h3v1h-3zM659 679h1v1h-1zM804 679h2v1h-2zM23 680h3v1h-3zM29 680h3v1h-3zM323 680h3v1h-3zM329 680h3v1h-3zM335 680h3v1h-3zM341 680h3v1h-3zM557 680h3v1h-3zM617 680h3v1h-3zM623 680h1v1h-1zM641 680h3v1h-3zM647 680h3v1h-3zM35 681h3v1h-3zM311 681h3v1h-3zM317 681h3v1h-3zM347 681h3v1h-3zM552 681h2v1h-2zM624 681h2v1h-2zM629 681h3v1h-3zM635 681h3v1h-3zM809 681h3v1h-3zM815 681h1v1h-1zM821 681h3v1h-3zM827 681h3v1h-3zM833 681h3v1h-3zM839 681h3v1h-3zM845 681h3v1h-3zM41 682h3v1h-3zM299 682h3v1h-3zM305 682h3v1h-3zM353 682h3v1h-3zM359 682h1v1h-1zM545 682h3v1h-3zM551 682h1v1h-1zM816 682h2v1h-2zM851 682h1v1h-1zM47 683h1v1h-1zM155 683h3v1h-3zM161 683h3v1h-3zM167 683h1v1h-1zM288 683h2v1h-2zM293 683h3v1h-3zM360 683h2v1h-2zM365 683h3v1h-3zM540 683h2v1h-2zM852 683h2v1h-2zM857 683h3v1h-3zM48 684h2v1h-2zM131 684h3v1h-3zM137 684h3v1h-3zM143 684h3v1h-3zM149 684h3v1h-3zM168 684h2v1h-2zM173 684h3v1h-3zM281 684h3v1h-3zM287 684h1v1h-1zM371 684h3v1h-3zM539 684h1v1h-1zM863 684h3v1h-3zM53 685h3v1h-3zM59 685h1v1h-1zM96 685h2v1h-2zM101 685h3v1h-3zM107 685h3v1h-3zM113 685h3v1h-3zM119 685h3v1h-3zM125 685h3v1h-3zM179 685h1v1h-1zM275 685h3v1h-3zM377 685h3v1h-3zM533 685h3v1h-3zM869 685h3v1h-3zM875 685h3v1h-3zM60 686h2v1h-2zM65 686h3v1h-3zM84 686h2v1h-2zM89 686h3v1h-3zM95 686h1v1h-1zM180 686h2v1h-2zM269 686h3v1h-3zM383 686h2v1h-2zM527 686h3v1h-3zM881 686h3v1h-3zM887 686h3v1h-3zM893 686h3v1h-3zM899 686h3v1h-3zM905 686h3v1h-3zM911 686h3v1h-3zM917 686h3v1h-3zM923 686h1v1h-1zM71 687h1v1h-1zM83 687h1v1h-1zM185 687h3v1h-3zM263 687h3v1h-3zM385 687h1v1h-1zM389 687h3v1h-3zM521 687h3v1h-3zM924 687h2v1h-2zM929 687h3v1h-3zM935 687h1v1h-1zM72 688h2v1h-2zM77 688h3v1h-3zM191 688h1v1h-1zM259 688h1v1h-1zM395 688h3v1h-3zM401 688h3v1h-3zM407 688h1v1h-1zM516 688h2v1h-2zM936 688h2v1h-2zM192 689h2v1h-2zM257 689h2v1h-2zM408 689h2v1h-2zM413 689h3v1h-3zM419 689h3v1h-3zM425 689h3v1h-3zM509 689h3v1h-3zM515 689h1v1h-1zM941 689h3v1h-3zM1079 689h3v1h-3zM1085 689h3v1h-3zM1091 689h3v1h-3zM1097 689h3v1h-3zM1103 689h3v1h-3zM1109 689h3v1h-3zM1115 689h3v1h-3zM1121 689h3v1h-3zM1127 689h3v1h-3zM1133 689h3v1h-3zM197 690h3v1h-3zM252 690h2v1h-2zM431 690h1v1h-1zM503 690h3v1h-3zM947 690h1v1h-1zM1068 690h2v1h-2zM1073 690h3v1h-3zM1139 690h1v1h-1zM203 691h1v1h-1zM251 691h1v1h-1zM432 691h2v1h-2zM437 691h3v1h-3zM492 691h2v1h-2zM497 691h3v1h-3zM948 691h2v1h-2zM1067 691h1v1h-1zM1140 691h2v1h-2zM1145 691h3v1h-3zM204 692h2v1h-2zM209 692h3v1h-3zM240 692h2v1h-2zM245 692h3v1h-3zM443 692h1v1h-1zM491 692h1v1h-1zM953 692h3v1h-3zM1061 692h3v1h-3zM1151 692h1v1h-1zM215 693h1v1h-1zM228 693h2v1h-2zM233 693h3v1h-3zM239 693h1v1h-1zM444 693h2v1h-2zM449 693h3v1h-3zM485 693h3v1h-3zM959 693h1v1h-1zM1056 693h2v1h-2zM1152 693h2v1h-2zM1157 693h3v1h-3zM216 694h2v1h-2zM221 694h3v1h-3zM227 694h1v1h-1zM455 694h1v1h-1zM473 694h3v1h-3zM479 694h3v1h-3zM960 694h2v1h-2zM1055 694h1v1h-1zM1163 694h2v1h-2zM456 695h2v1h-2zM461 695h3v1h-3zM467 695h3v1h-3zM1049 695h3v1h-3zM1165 695h1v1h-1zM1169 695h3v1h-3zM1175 695h3v1h-3zM1181 695h3v1h-3zM1199 695h3v1h-3zM1205 695h3v1h-3zM1211 695h1v1h-1zM965 696h2v1h-2zM1045 696h1v1h-1zM1187 696h3v1h-3zM1193 696h3v1h-3zM1212 696h2v1h-2zM1217 696h3v1h-3zM1223 696h3v1h-3zM967 697h1v1h-1zM1043 697h2v1h-2zM1229 697h3v1h-3zM1235 697h1v1h-1zM1236 698h2v1h-2zM1241 698h3v1h-3zM1247 698h3v1h-3zM1253 698h3v1h-3zM1259 698h3v1h-3zM1265 698h3v1h-3zM971 699h2v1h-2zM1037 699h3v1h-3zM973 700h1v1h-1zM1032 700h2v1h-2zM1031 701h1v1h-1zM977 702h2v1h-2zM1027 702h1v1h-1zM979 703h1v1h-1zM1025 703h2v1h-2zM1021 704h1v1h-1zM983 705h2v1h-2zM1019 705h2v1h-2zM985 706h1v1h-1zM1015 707h1v1h-1zM989 708h3v1h-3zM1013 708h2v1h-2zM995 709h1v1h-1zM1007 709h3v1h-3zM996 710h2v1h-2zM1001 710h3v1h-3z" fill="#ff0000"/>
<rect x="5" y="350" width="1592" height="2" fill="#ff0000" />
<rect x="1599" y="345" width="41" height="11" fill="#ff0000" />
<text x="1603.8" y="354" font-size="9" fill="#fff" stroke="#fff" stroke-width="0.18" text-anchor="start" textLength="31.6" lengthAdjust="spacingAndGlyphs" >1.35606</text>
<rect x="5" y="389" width="1592" height="2" fill="#ff0000" />
<rect x="1599" y="384" width="41" height="11" fill="#ff0000" />
<text x="1603.8" y="393" font-size="9" fill="#fff" stroke="#fff" stroke-width="0.18" text-anchor="start" textLength="31.6" lengthAdjust="spacingAndGlyphs" >1.34206</text>
<rect x="5" y="421" width="1592" height="2" fill="#00ff00" />
<rect x="1599" y="416" width="41" height="11" fill="#00ff00" />
<text x="1603.8" y="425" font-size="9" fill="#fff" stroke="#fff" stroke-width="0.18" text-anchor="start" textLength="31.6" lengthAdjust="spacingAndGlyphs" >1.33011</text>
<rect x="5" y="465" width="1592" height="2" fill="#0000ff" />
<rect x="1599" y="460" width="41" height="11" fill="#0000ff" />
<text x="1603.8" y="469" font-size="9" fill="#fff" stroke="#fff" stroke-width="0.18" text-anchor="start" textLength="31.6" lengthAdjust="spacingAndGlyphs" >1.31405</text>
<rect x="1599" y="475" width="41" height="11" fill="#000" />
<text x="1603.8" y="484" font-size="9" fill="#fff" stroke="#fff" stroke-width="0.18" text-anchor="start" textLength="31.6" lengthAdjust="spacingAndGlyphs" >1.30879</text>
<rect x="5" y="503" width="1592" height="2" fill="#0000ff" />
<rect x="1599" y="498" width="41" height="11" fill="#0000ff" />
<text x="1603.8" y="507" font-size="9" fill="#fff" stroke="#fff" stroke-width="0.18" text-anchor="start" textLength="31.6" lengthAdjust="spacingAndGlyphs" >1.30022</text>
<rect x="4" y="501" width="6" height="6" fill="#0000ff" />
<rect x="6" y="503" width="2" height="2" fill="#fff" />
<rect x="1591" y="501" width="6" height="6" fill="#0000ff" />
<rect x="1593" y="503" width="2" height="2" fill="#fff" />
<path d="M8.2 32.4 L15.2 32.4 L11.7 36.2 Z" fill="#000" shape-rendering="geometricPrecision"/>
<text x="20.3" y="37" font-size="9" fill="#000" stroke="#000" stroke-width="0.18" text-anchor="start" textLength="65.2" lengthAdjust="spacingAndGlyphs" >USDCAD,Daily</text>
<text x="92.6" y="37" font-size="9" fill="#000" stroke="#000" stroke-width="0.18" text-anchor="start" textLength="31.7" lengthAdjust="spacingAndGlyphs" >1.30882</text>
<text x="128.6" y="37" font-size="9" fill="#000" stroke="#000" stroke-width="0.18" text-anchor="start" textLength="31.6" lengthAdjust="spacingAndGlyphs" >1.30904</text>
<text x="164.7" y="37" font-size="9" fill="#000" stroke="#000" stroke-width="0.18" text-anchor="start" textLength="31.7" lengthAdjust="spacingAndGlyphs" >1.30741</text>
<text x="200.8" y="37" font-size="9" fill="#000" stroke="#000" stroke-width="0.18" text-anchor="start" textLength="32" lengthAdjust="spacingAndGlyphs" >1.30879</text>
<text x="9.5" y="545" font-size="9" fill="#000" stroke="#000" stroke-width="0.18" text-anchor="start" textLength="67.6" lengthAdjust="spacingAndGlyphs" >RSI(14) 29.5038</text>
<text x="9.5" y="639" font-size="9" fill="#000" stroke="#000" stroke-width="0.18" text-anchor="start" textLength="153.1" lengthAdjust="spacingAndGlyphs" >MACD(12,26,9) -0.007431 -0.007032</text>
<path d="M1272.5 26 L1282.5 26 L1277.5 31.3 Z" fill="#c0c0c0" shape-rendering="geometricPrecision"/>
<line x1="6" x2="1597" y1="560.5" y2="560.5" stroke="#c0c0c0" stroke-width="1" stroke-dasharray="3 3"/>
<line x1="6" x2="1597" y1="596.5" y2="596.5" stroke="#c0c0c0" stroke-width="1" stroke-dasharray="3 3"/>
<rect x="0" y="741" width="1642" height="20" fill="#f0f0f0" />
<rect x="0" y="739" width="1642" height="1" fill="#e3e3e3" />
<rect x="0" y="740" width="1642" height="1" fill="#f0f0f0" />
<rect x="0" y="741" width="1642" height="1" fill="#000" />
<rect x="0" y="741" width="1" height="20" fill="#a0a0a0" />
<rect x="1" y="741" width="1" height="20" fill="#696969" />
<rect x="314" y="740" width="104" height="20" fill="#fff" />
<rect x="314" y="741" width="1" height="19" fill="#000" />
<rect x="417" y="741" width="1" height="19" fill="#000" />
<rect x="314" y="759" width="104" height="1" fill="#000" />
<rect x="316" y="760" width="103" height="1" fill="#a0a0a0" />
<rect x="418" y="743" width="1" height="18" fill="#a0a0a0" />
<text x="18.5" y="755.4" font-size="11.6" fill="#606060" stroke="#606060" stroke-width="0.1" text-anchor="start" textLength="79.5" lengthAdjust="spacingAndGlyphs" >EURUSD,Daily</text>
<text x="120" y="755.4" font-size="11.6" fill="#606060" stroke="#606060" stroke-width="0.1" text-anchor="start" textLength="79" lengthAdjust="spacingAndGlyphs" >USDCHF,Daily</text>
<text x="221" y="755.4" font-size="11.6" fill="#606060" stroke="#606060" stroke-width="0.1" text-anchor="start" textLength="82" lengthAdjust="spacingAndGlyphs" >AUDUSD,Daily</text>
<text x="325" y="755.4" font-size="11.6" fill="#000" stroke="#000" stroke-width="0.25" text-anchor="start" textLength="81" lengthAdjust="spacingAndGlyphs" >USDCAD,Daily</text>
<text x="428" y="755.4" font-size="11.6" fill="#606060" stroke="#606060" stroke-width="0.1" text-anchor="start" textLength="83" lengthAdjust="spacingAndGlyphs" >USDCNH,Daily</text>
<text x="534" y="755.4" font-size="11.6" fill="#606060" stroke="#606060" stroke-width="0.1" text-anchor="start" textLength="79.5" lengthAdjust="spacingAndGlyphs" >EURUSD,Daily</text>
<text x="638.2" y="755.4" font-size="11.6" fill="#606060" stroke="#606060" stroke-width="0.1" text-anchor="start" textLength="67.8" lengthAdjust="spacingAndGlyphs" >GBPUSD,H4</text>
<text x="729" y="755.4" font-size="11.6" fill="#606060" stroke="#606060" stroke-width="0.1" text-anchor="start" textLength="69" lengthAdjust="spacingAndGlyphs" >XAUUSD,H1</text>
<text x="821" y="755.4" font-size="11.6" fill="#606060" stroke="#606060" stroke-width="0.1" text-anchor="start" textLength="49.3" lengthAdjust="spacingAndGlyphs" >HK50,H1</text>
<text x="893.4" y="755.4" font-size="11.6" fill="#606060" stroke="#606060" stroke-width="0.1" text-anchor="start" textLength="55.8" lengthAdjust="spacingAndGlyphs" >UK100,H1</text>
<text x="973.4" y="755.4" font-size="11.6" fill="#606060" stroke="#606060" stroke-width="0.1" text-anchor="start" textLength="56.2" lengthAdjust="spacingAndGlyphs" >UK100,H1</text>
<text x="1053" y="755.4" font-size="11.6" fill="#606060" stroke="#606060" stroke-width="0.1" text-anchor="start" textLength="56.6" lengthAdjust="spacingAndGlyphs" >GER30,H1</text>
<text x="1132" y="755.4" font-size="11.6" fill="#606060" stroke="#606060" stroke-width="0.1" text-anchor="start" textLength="54.4" lengthAdjust="spacingAndGlyphs" >FRA40,H1</text>
<text x="1208" y="755.4" font-size="11.6" fill="#606060" stroke="#606060" stroke-width="0.1" text-anchor="start" textLength="51" lengthAdjust="spacingAndGlyphs" >USOil,H4</text>
<text x="1280.4" y="755.4" font-size="11.6" fill="#606060" stroke="#606060" stroke-width="0.1" text-anchor="start" textLength="62.3" lengthAdjust="spacingAndGlyphs" >USDJPY,H1</text>
<text x="1364.4" y="755.4" font-size="11.6" fill="#606060" stroke="#606060" stroke-width="0.1" text-anchor="start" textLength="58.6" lengthAdjust="spacingAndGlyphs" >DJ30,Daily</text>
<text x="1444.3" y="755.4" font-size="11.6" fill="#606060" stroke="#606060" stroke-width="0.1" text-anchor="start" textLength="78.1" lengthAdjust="spacingAndGlyphs" >CHINA300,H1</text>
<text x="1544.4" y="755.4" font-size="11.6" fill="#606060" stroke="#606060" stroke-width="0.1" text-anchor="start" textLength="50.0" lengthAdjust="spacingAndGlyphs" >USOil,H1</text>
<rect x="110" y="744" width="1" height="14" fill="#606060" />
<rect x="210" y="744" width="1" height="14" fill="#606060" />
<rect x="522" y="744" width="1" height="14" fill="#606060" />
<rect x="626" y="744" width="1" height="14" fill="#606060" />
<rect x="718" y="744" width="1" height="14" fill="#606060" />
<rect x="810" y="744" width="1" height="14" fill="#606060" />
<rect x="882" y="744" width="1" height="14" fill="#606060" />
<rect x="962" y="744" width="1" height="14" fill="#606060" />
<rect x="1042" y="744" width="1" height="14" fill="#606060" />
<rect x="1122" y="744" width="1" height="14" fill="#606060" />
<rect x="1198" y="744" width="1" height="14" fill="#606060" />
<rect x="1270" y="744" width="1" height="14" fill="#606060" />
<rect x="1354" y="744" width="1" height="14" fill="#606060" />
<rect x="1434" y="744" width="1" height="14" fill="#606060" />
<rect x="1534" y="744" width="1" height="14" fill="#606060" />
<rect x="1606" y="744" width="1" height="14" fill="#606060" />
<path d="M1616.2 747 L1616.2 754 L1612.6 750.5 Z" fill="#a0a0a0" shape-rendering="geometricPrecision"/>
<path d="M1631.5 747 L1631.5 754 L1635.2 750.5 Z" fill="#000" shape-rendering="geometricPrecision"/>
</svg>
</body></html>
